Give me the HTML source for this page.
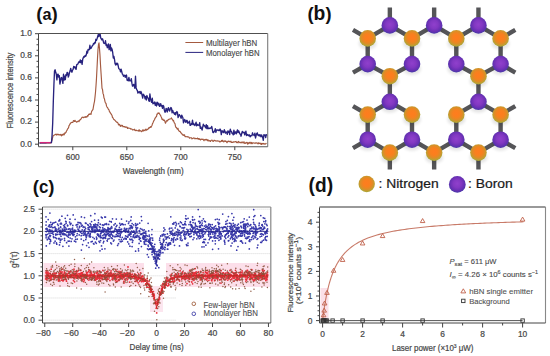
<!DOCTYPE html>
<html><head><meta charset="utf-8"><style>
html,body{margin:0;padding:0;background:#fff;width:550px;height:356px;overflow:hidden}
svg{display:block}
text{font-family:"Liberation Sans", sans-serif}
</style></head><body>
<svg width="550" height="356" viewBox="0 0 550 356" font-family='"Liberation Sans", sans-serif'>
<defs>
<radialGradient id="gN" cx="0.5" cy="0.45" r="0.55">
<stop offset="0" stop-color="#ff7c1e"/><stop offset="0.4" stop-color="#f8801e"/><stop offset="0.68" stop-color="#de8c26"/><stop offset="0.88" stop-color="#bca032"/><stop offset="1" stop-color="#a8a63a"/></radialGradient>
<radialGradient id="gB" cx="0.5" cy="0.45" r="0.55">
<stop offset="0" stop-color="#9040cc"/><stop offset="0.45" stop-color="#8238c2"/><stop offset="0.75" stop-color="#6a30b4"/><stop offset="1" stop-color="#4838a8"/></radialGradient>
<filter id="blur" x="-50%" y="-50%" width="200%" height="200%"><feGaussianBlur stdDeviation="1.8"/></filter>
</defs>
<rect width="550" height="356" fill="#fff"/>
<text x="36.3" y="19.5" font-weight="bold" fill="#111" textLength="21.5" lengthAdjust="spacingAndGlyphs"><tspan font-size="18.5">(</tspan><tspan font-size="16">a</tspan><tspan font-size="18.5">)</tspan></text>
<path d="M39.50,143.00 L40.00,143.00 L40.50,143.00 L41.00,143.00 L41.50,143.00 L42.00,143.00 L42.50,143.00 L43.00,143.00 L43.50,143.00 L44.00,143.00 L44.50,143.00 L45.00,143.00 L45.50,143.00 L46.00,143.00 L46.50,143.00 L47.00,143.00 L47.50,143.00 L48.00,143.00 L48.50,143.00 L49.00,143.00 L49.50,143.00 L50.00,143.00 L50.50,143.00 L51.00,143.00 L51.50,141.64 L52.00,140.27 L52.50,138.22 L53.00,136.00 L53.50,135.61 L54.00,135.21 L54.50,134.88 L55.00,134.80 L55.50,134.22 L56.00,134.22 L56.50,135.07 L57.00,134.05 L57.50,134.42 L58.00,134.97 L58.50,134.32 L59.00,134.65 L59.50,134.85 L60.00,134.91 L60.50,134.36 L61.00,135.10 L61.50,135.83 L62.00,134.31 L62.50,135.21 L63.00,134.55 L63.50,133.87 L64.00,134.89 L64.50,133.98 L65.00,132.70 L65.50,133.04 L66.00,132.31 L66.50,130.95 L67.00,130.41 L67.50,129.05 L68.00,128.42 L68.50,127.79 L69.00,125.71 L69.50,125.12 L70.00,123.77 L70.50,123.66 L71.00,122.60 L71.50,122.49 L72.00,122.28 L72.50,122.42 L73.00,122.14 L73.50,120.50 L74.00,120.67 L74.50,121.50 L75.00,120.28 L75.50,121.16 L76.00,121.45 L76.50,122.23 L77.00,122.06 L77.50,121.57 L78.00,121.22 L78.50,120.96 L79.00,121.52 L79.50,120.22 L80.00,119.84 L80.50,119.65 L81.00,118.89 L81.50,118.34 L82.00,117.36 L82.50,117.40 L83.00,117.02 L83.50,117.74 L84.00,117.41 L84.50,116.99 L85.00,117.26 L85.50,116.68 L86.00,117.30 L86.50,116.69 L87.00,116.91 L87.50,115.63 L88.00,116.04 L88.50,114.62 L89.00,114.04 L89.50,114.50 L90.00,113.80 L90.50,113.93 L91.00,114.31 L91.50,111.75 L92.00,110.83 L92.50,110.23 L93.00,109.35 L93.50,106.31 L94.00,103.60 L94.50,101.35 L95.00,97.17 L95.50,92.30 L96.00,85.78 L96.50,78.11 L97.00,68.20 L97.50,58.40 L98.00,49.27 L98.50,44.44 L99.00,42.90 L99.50,48.59 L100.00,55.34 L100.50,64.67 L101.00,72.46 L101.50,80.16 L102.00,88.18 L102.50,89.44 L103.00,93.42 L103.50,94.63 L104.00,98.08 L104.50,99.05 L105.00,101.62 L105.50,103.07 L106.00,103.36 L106.50,105.87 L107.00,107.10 L107.50,107.47 L108.00,108.45 L108.50,109.45 L109.00,109.97 L109.50,111.95 L110.00,112.04 L110.50,113.20 L111.00,113.74 L111.50,114.73 L112.00,115.32 L112.50,117.50 L113.00,117.70 L113.50,119.17 L114.00,119.61 L114.50,119.75 L115.00,120.44 L115.50,120.82 L116.00,121.60 L116.50,121.91 L117.00,122.45 L117.50,122.41 L118.00,123.20 L118.50,124.93 L119.00,124.26 L119.50,124.57 L120.00,125.70 L120.50,126.39 L121.00,125.11 L121.50,125.89 L122.00,125.83 L122.50,125.42 L123.00,126.82 L123.50,126.59 L124.00,126.79 L124.50,126.53 L125.00,127.29 L125.50,126.95 L126.00,127.30 L126.50,126.97 L127.00,127.07 L127.50,128.50 L128.00,127.72 L128.50,128.27 L129.00,128.26 L129.50,128.20 L130.00,128.32 L130.50,129.04 L131.00,128.72 L131.50,128.94 L132.00,129.18 L132.50,129.90 L133.00,129.81 L133.50,129.80 L134.00,129.48 L134.50,129.22 L135.00,130.50 L135.50,130.56 L136.00,130.06 L136.50,130.45 L137.00,130.63 L137.50,130.70 L138.00,130.80 L138.50,130.17 L139.00,131.21 L139.50,129.88 L140.00,130.99 L140.50,130.85 L141.00,131.10 L141.50,131.65 L142.00,131.51 L142.50,130.19 L143.00,129.83 L143.50,130.99 L144.00,129.98 L144.50,130.39 L145.00,130.73 L145.50,129.40 L146.00,129.07 L146.50,130.17 L147.00,129.82 L147.50,129.34 L148.00,129.15 L148.50,128.37 L149.00,127.71 L149.50,128.05 L150.00,127.31 L150.50,126.64 L151.00,127.39 L151.50,126.30 L152.00,125.43 L152.50,123.62 L153.00,122.68 L153.50,121.40 L154.00,120.35 L154.50,119.78 L155.00,118.21 L155.50,117.80 L156.00,116.81 L156.50,116.67 L157.00,113.97 L157.50,114.13 L158.00,112.92 L158.50,113.30 L159.00,112.93 L159.50,113.76 L160.00,114.70 L160.50,115.26 L161.00,116.48 L161.50,117.42 L162.00,119.27 L162.50,119.69 L163.00,119.10 L163.50,120.35 L164.00,120.22 L164.50,120.07 L165.00,121.93 L165.50,123.16 L166.00,122.00 L166.50,120.88 L167.00,120.47 L167.50,120.99 L168.00,119.99 L168.50,119.52 L169.00,119.22 L169.50,119.02 L170.00,119.15 L170.50,118.78 L171.00,118.36 L171.50,117.84 L172.00,119.27 L172.50,119.32 L173.00,120.86 L173.50,120.33 L174.00,121.96 L174.50,123.18 L175.00,123.67 L175.50,126.35 L176.00,127.38 L176.50,127.57 L177.00,128.80 L177.50,129.22 L178.00,128.34 L178.50,130.39 L179.00,130.85 L179.50,131.54 L180.00,131.41 L180.50,132.25 L181.00,132.74 L181.50,133.87 L182.00,133.89 L182.50,134.16 L183.00,135.38 L183.50,134.78 L184.00,135.31 L184.50,134.77 L185.00,136.64 L185.50,136.52 L186.00,136.67 L186.50,136.73 L187.00,136.63 L187.50,136.86 L188.00,136.80 L188.50,137.01 L189.00,137.31 L189.50,138.22 L190.00,137.92 L190.50,137.79 L191.00,137.71 L191.50,137.75 L192.00,138.93 L192.50,138.45 L193.00,138.29 L193.50,138.15 L194.00,137.84 L194.50,138.42 L195.00,138.96 L195.50,138.39 L196.00,138.54 L196.50,138.60 L197.00,138.83 L197.50,138.05 L198.00,138.79 L198.50,138.55 L199.00,139.48 L199.50,138.72 L200.00,139.46 L200.50,140.00 L201.00,139.14 L201.50,139.06 L202.00,139.53 L202.50,139.49 L203.00,139.06 L203.50,139.86 L204.00,140.70 L204.50,139.63 L205.00,139.72 L205.50,139.36 L206.00,140.11 L206.50,139.39 L207.00,139.53 L207.50,140.78 L208.00,139.76 L208.50,140.82 L209.00,141.10 L209.50,140.53 L210.00,140.75 L210.50,141.51 L211.00,140.50 L211.50,140.33 L212.00,139.99 L212.50,140.72 L213.00,141.47 L213.50,141.24 L214.00,140.32 L214.50,140.39 L215.00,140.60 L215.50,141.03 L216.00,140.81 L216.50,141.05 L217.00,141.13 L217.50,140.86 L218.00,141.02 L218.50,141.18 L219.00,141.06 L219.50,141.39 L220.00,142.10 L220.50,141.49 L221.00,141.26 L221.50,140.42 L222.00,141.49 L222.50,140.35 L223.00,140.65 L223.50,141.81 L224.00,141.77 L224.50,141.38 L225.00,140.63 L225.50,141.33 L226.00,141.21 L226.50,141.89 L227.00,142.74 L227.50,141.75 L228.00,141.28 L228.50,141.12 L229.00,141.71 L229.50,141.68 L230.00,141.22 L230.50,141.89 L231.00,141.28 L231.50,142.45 L232.00,142.45 L232.50,142.50 L233.00,141.75 L233.50,142.27 L234.00,141.98 L234.50,141.89 L235.00,141.94 L235.50,141.49 L236.00,141.45 L236.50,142.60 L237.00,142.14 L237.50,142.37 L238.00,142.80 L238.50,141.46 L239.00,141.96 L239.50,142.47 L240.00,142.61 L240.50,142.26 L241.00,142.99 L241.50,142.61 L242.00,141.93 L242.50,142.10 L243.00,142.99 L243.50,142.85 L244.00,141.70 L244.50,143.36 L245.00,143.01 L245.50,143.41 L246.00,142.58 L246.50,142.65 L247.00,142.27 L247.50,144.13 L248.00,142.80 L248.50,143.71 L249.00,142.62 L249.50,143.06 L250.00,142.17 L250.50,142.85 L251.00,143.56 L251.50,142.47 L252.00,143.66 L252.50,143.33 L253.00,142.66 L253.50,142.97 L254.00,143.02 L254.50,143.25 L255.00,143.04 L255.50,142.92 L256.00,143.21 L256.50,142.88 L257.00,142.78 L257.50,143.43 L258.00,143.92 L258.50,142.75 L259.00,143.54 L259.50,143.25 L260.00,143.11 L260.50,144.06 L261.00,143.40 L261.50,144.44 L262.00,143.33 L262.50,143.94 L263.00,143.67 L263.50,143.43 L264.00,144.13 L264.50,143.79 L265.00,144.20 L265.50,143.91 L266.00,143.42 L266.50,143.94" fill="none" stroke="#a45a40" stroke-width="1.15" stroke-linejoin="round" />
<path d="M39.50,143.00 L40.10,142.97 L40.70,142.95 L41.30,142.93 L41.90,142.90 L42.50,142.88 L43.10,142.85 L43.70,142.82 L44.30,142.80 L44.90,142.78 L45.50,142.75 L46.10,142.72 L46.70,142.70 L47.30,142.68 L47.90,142.65 L48.50,142.62 L49.10,142.60 L49.70,142.57 L50.30,142.55 L50.90,142.53 L51.50,142.50 L52.10,135.00 L52.70,123.00 L53.30,102.00 L53.90,85.18 L54.50,70.94 L55.10,69.76 L55.70,72.32 L56.30,74.28 L56.90,79.91 L57.50,74.58 L58.10,74.10 L58.70,77.01 L59.30,75.67 L59.90,84.05 L60.50,81.03 L61.10,77.92 L61.70,77.53 L62.30,80.06 L62.90,83.40 L63.50,74.21 L64.10,80.13 L64.70,76.16 L65.30,79.63 L65.90,74.62 L66.50,75.44 L67.10,72.32 L67.70,72.87 L68.30,77.10 L68.90,75.46 L69.50,72.51 L70.10,71.07 L70.70,68.52 L71.30,71.02 L71.90,72.19 L72.50,70.25 L73.10,69.35 L73.70,66.41 L74.30,67.64 L74.90,66.81 L75.50,68.71 L76.10,69.36 L76.70,64.85 L77.30,64.40 L77.90,63.98 L78.50,62.39 L79.10,61.61 L79.70,62.47 L80.30,60.00 L80.90,62.71 L81.50,60.69 L82.10,64.38 L82.70,59.33 L83.30,57.65 L83.90,56.50 L84.50,57.03 L85.10,55.50 L85.70,56.17 L86.30,54.79 L86.90,51.18 L87.50,53.13 L88.10,49.41 L88.70,49.97 L89.30,49.71 L89.90,45.25 L90.50,48.68 L91.10,48.20 L91.70,46.98 L92.30,45.85 L92.90,45.35 L93.50,43.35 L94.10,43.92 L94.70,42.51 L95.30,42.96 L95.90,39.06 L96.50,40.38 L97.10,38.65 L97.70,36.53 L98.30,34.38 L98.90,36.58 L99.50,33.80 L100.10,33.91 L100.70,37.80 L101.30,38.81 L101.90,39.94 L102.50,38.80 L103.10,40.52 L103.70,43.10 L104.30,43.33 L104.90,43.53 L105.50,40.74 L106.10,45.49 L106.70,44.37 L107.30,47.73 L107.90,46.82 L108.50,43.88 L109.10,49.68 L109.70,48.29 L110.30,44.32 L110.90,50.93 L111.50,47.99 L112.10,49.47 L112.70,52.47 L113.30,57.97 L113.90,56.36 L114.50,59.30 L115.10,63.82 L115.70,65.07 L116.30,63.23 L116.90,64.52 L117.50,63.30 L118.10,65.26 L118.70,68.32 L119.30,69.09 L119.90,69.34 L120.50,71.93 L121.10,69.22 L121.70,71.48 L122.30,73.88 L122.90,74.43 L123.50,76.24 L124.10,75.73 L124.70,75.16 L125.30,77.34 L125.90,75.45 L126.50,75.02 L127.10,80.26 L127.70,79.58 L128.30,80.89 L128.90,77.47 L129.50,80.72 L130.10,80.84 L130.70,80.90 L131.30,78.71 L131.90,83.13 L132.50,86.18 L133.10,85.73 L133.70,84.35 L134.30,86.10 L134.90,88.22 L135.50,76.29 L136.10,87.65 L136.70,89.59 L137.30,90.46 L137.90,93.10 L138.50,92.57 L139.10,91.53 L139.70,92.10 L140.30,93.66 L140.90,91.51 L141.50,93.02 L142.10,95.41 L142.70,98.02 L143.30,94.30 L143.90,95.02 L144.50,96.02 L145.10,98.82 L145.70,96.54 L146.30,99.98 L146.90,95.55 L147.50,97.56 L148.10,97.98 L148.70,100.39 L149.30,101.35 L149.90,93.82 L150.50,98.30 L151.10,101.19 L151.70,102.42 L152.30,98.25 L152.90,103.76 L153.50,103.06 L154.10,103.45 L154.70,101.90 L155.30,105.29 L155.90,103.04 L156.50,105.97 L157.10,102.21 L157.70,102.58 L158.30,104.96 L158.90,103.41 L159.50,106.42 L160.10,105.85 L160.70,103.75 L161.30,106.05 L161.90,105.50 L162.50,108.33 L163.10,105.53 L163.70,106.22 L164.30,109.82 L164.90,112.18 L165.50,112.00 L166.10,108.43 L166.70,109.05 L167.30,111.98 L167.90,108.97 L168.50,107.58 L169.10,110.07 L169.70,111.04 L170.30,108.79 L170.90,107.50 L171.50,108.29 L172.10,112.87 L172.70,110.40 L173.30,112.01 L173.90,113.09 L174.50,114.28 L175.10,112.75 L175.70,114.79 L176.30,112.39 L176.90,111.51 L177.50,112.88 L178.10,117.59 L178.70,115.66 L179.30,114.63 L179.90,115.80 L180.50,116.54 L181.10,118.41 L181.70,115.13 L182.30,116.42 L182.90,117.86 L183.50,122.91 L184.10,120.78 L184.70,119.47 L185.30,121.18 L185.90,122.33 L186.50,120.35 L187.10,120.40 L187.70,123.19 L188.30,122.30 L188.90,122.85 L189.50,121.23 L190.10,125.38 L190.70,125.30 L191.30,123.74 L191.90,124.19 L192.50,120.12 L193.10,124.64 L193.70,123.58 L194.30,124.85 L194.90,125.51 L195.50,124.13 L196.10,122.24 L196.70,125.80 L197.30,124.29 L197.90,125.21 L198.50,125.03 L199.10,125.60 L199.70,122.59 L200.30,128.38 L200.90,126.98 L201.50,128.50 L202.10,130.03 L202.70,127.04 L203.30,124.27 L203.90,125.87 L204.50,125.51 L205.10,126.78 L205.70,127.86 L206.30,124.67 L206.90,128.56 L207.50,125.74 L208.10,128.78 L208.70,128.27 L209.30,128.09 L209.90,128.62 L210.50,128.02 L211.10,128.04 L211.70,126.44 L212.30,129.21 L212.90,132.32 L213.50,132.66 L214.10,131.72 L214.70,130.85 L215.30,128.76 L215.90,132.27 L216.50,129.98 L217.10,130.08 L217.70,129.84 L218.30,130.57 L218.90,129.85 L219.50,130.53 L220.10,129.04 L220.70,130.30 L221.30,134.66 L221.90,131.02 L222.50,130.86 L223.10,132.22 L223.70,132.61 L224.30,129.78 L224.90,131.30 L225.50,133.17 L226.10,132.21 L226.70,132.04 L227.30,134.40 L227.90,130.90 L228.50,132.19 L229.10,131.30 L229.70,134.59 L230.30,129.15 L230.90,131.27 L231.50,131.57 L232.10,133.55 L232.70,133.53 L233.30,134.86 L233.90,130.18 L234.50,133.97 L235.10,132.38 L235.70,131.85 L236.30,133.85 L236.90,131.60 L237.50,129.83 L238.10,132.65 L238.70,130.93 L239.30,132.38 L239.90,134.09 L240.50,134.08 L241.10,136.21 L241.70,133.44 L242.30,131.39 L242.90,132.72 L243.50,132.54 L244.10,132.15 L244.70,134.88 L245.30,133.24 L245.90,131.19 L246.50,135.56 L247.10,134.35 L247.70,135.19 L248.30,134.87 L248.90,135.80 L249.50,134.91 L250.10,136.88 L250.70,135.64 L251.30,135.64 L251.90,135.73 L252.50,132.80 L253.10,134.92 L253.70,134.83 L254.30,135.63 L254.90,133.18 L255.50,138.03 L256.10,135.64 L256.70,133.59 L257.30,132.85 L257.90,135.19 L258.50,135.55 L259.10,134.60 L259.70,135.96 L260.30,134.84 L260.90,136.81 L261.50,134.82 L262.10,135.98 L262.70,137.66 L263.30,140.27 L263.90,134.59 L264.50,135.52 L265.10,134.98 L265.70,137.63 L266.30,134.60 L266.90,135.72" fill="none" stroke="#28237f" stroke-width="1.35" stroke-linejoin="round" />
<line x1="40.00" y1="142.60" x2="50.50" y2="142.60" stroke="#d4267a" stroke-width="1.3" />
<line x1="38.50" y1="33.50" x2="267.70" y2="33.50" stroke="#505050" stroke-width="1.1" />
<line x1="267.70" y1="33.50" x2="267.70" y2="146.70" stroke="#7c7c7c" stroke-width="1.1" />
<line x1="38.50" y1="33.50" x2="38.50" y2="146.70" stroke="#444" stroke-width="1" />
<line x1="38.50" y1="146.70" x2="267.70" y2="146.70" stroke="#555" stroke-width="1.1" />
<line x1="35.00" y1="144.20" x2="38.50" y2="144.20" stroke="#444" stroke-width="1" />
<line x1="36.50" y1="138.67" x2="38.50" y2="138.67" stroke="#444" stroke-width="1" />
<line x1="36.50" y1="133.15" x2="38.50" y2="133.15" stroke="#444" stroke-width="1" />
<line x1="36.50" y1="127.62" x2="38.50" y2="127.62" stroke="#444" stroke-width="1" />
<line x1="35.00" y1="122.10" x2="38.50" y2="122.10" stroke="#444" stroke-width="1" />
<line x1="36.50" y1="116.57" x2="38.50" y2="116.57" stroke="#444" stroke-width="1" />
<line x1="36.50" y1="111.05" x2="38.50" y2="111.05" stroke="#444" stroke-width="1" />
<line x1="36.50" y1="105.52" x2="38.50" y2="105.52" stroke="#444" stroke-width="1" />
<line x1="35.00" y1="100.00" x2="38.50" y2="100.00" stroke="#444" stroke-width="1" />
<line x1="36.50" y1="94.47" x2="38.50" y2="94.47" stroke="#444" stroke-width="1" />
<line x1="36.50" y1="88.95" x2="38.50" y2="88.95" stroke="#444" stroke-width="1" />
<line x1="36.50" y1="83.42" x2="38.50" y2="83.42" stroke="#444" stroke-width="1" />
<line x1="35.00" y1="77.90" x2="38.50" y2="77.90" stroke="#444" stroke-width="1" />
<line x1="36.50" y1="72.37" x2="38.50" y2="72.37" stroke="#444" stroke-width="1" />
<line x1="36.50" y1="66.85" x2="38.50" y2="66.85" stroke="#444" stroke-width="1" />
<line x1="36.50" y1="61.32" x2="38.50" y2="61.32" stroke="#444" stroke-width="1" />
<line x1="35.00" y1="55.80" x2="38.50" y2="55.80" stroke="#444" stroke-width="1" />
<line x1="36.50" y1="50.27" x2="38.50" y2="50.27" stroke="#444" stroke-width="1" />
<line x1="36.50" y1="44.75" x2="38.50" y2="44.75" stroke="#444" stroke-width="1" />
<line x1="36.50" y1="39.22" x2="38.50" y2="39.22" stroke="#444" stroke-width="1" />
<line x1="35.00" y1="33.70" x2="38.50" y2="33.70" stroke="#444" stroke-width="1" />
<text x="31.8" y="146.5" font-size="8.4" text-anchor="end" fill="#484848" stroke="#484848" stroke-width="0.22" >0.0</text>
<text x="31.8" y="124.4" font-size="8.4" text-anchor="end" fill="#484848" stroke="#484848" stroke-width="0.22" >0.2</text>
<text x="31.8" y="102.3" font-size="8.4" text-anchor="end" fill="#484848" stroke="#484848" stroke-width="0.22" >0.4</text>
<text x="31.8" y="80.2" font-size="8.4" text-anchor="end" fill="#484848" stroke="#484848" stroke-width="0.22" >0.6</text>
<text x="31.8" y="58.1" font-size="8.4" text-anchor="end" fill="#484848" stroke="#484848" stroke-width="0.22" >0.8</text>
<text x="31.8" y="36.0" font-size="8.4" text-anchor="end" fill="#484848" stroke="#484848" stroke-width="0.22" >1.0</text>
<line x1="72.80" y1="146.70" x2="72.80" y2="150.20" stroke="#444" stroke-width="1" />
<text x="72.8" y="160.3" font-size="8.4" text-anchor="middle" fill="#484848" stroke="#484848" stroke-width="0.22" >600</text>
<line x1="126.80" y1="146.70" x2="126.80" y2="150.20" stroke="#444" stroke-width="1" />
<text x="126.8" y="160.3" font-size="8.4" text-anchor="middle" fill="#484848" stroke="#484848" stroke-width="0.22" >650</text>
<line x1="180.80" y1="146.70" x2="180.80" y2="150.20" stroke="#444" stroke-width="1" />
<text x="180.8" y="160.3" font-size="8.4" text-anchor="middle" fill="#484848" stroke="#484848" stroke-width="0.22" >700</text>
<line x1="234.80" y1="146.70" x2="234.80" y2="150.20" stroke="#444" stroke-width="1" />
<text x="234.8" y="160.3" font-size="8.4" text-anchor="middle" fill="#484848" stroke="#484848" stroke-width="0.22" >750</text>
<text x="122.8" y="174.2" font-size="8.8" text-anchor="start" fill="#484848" stroke="#484848" stroke-width="0.22" textLength="60.8" lengthAdjust="spacingAndGlyphs" >Wavelength (nm)</text>
<text x="0.0" y="0.0" font-size="8.4" text-anchor="middle" fill="#484848" stroke="#484848" stroke-width="0.22" textLength="76" lengthAdjust="spacingAndGlyphs" transform="translate(12.8,90.6) rotate(-90)">Fluorescence intensity</text>
<line x1="185.40" y1="42.50" x2="203.20" y2="42.50" stroke="#a45a40" stroke-width="1" />
<line x1="185.40" y1="52.40" x2="203.20" y2="52.40" stroke="#28237f" stroke-width="1" />
<text x="206.0" y="45.6" font-size="8.3" text-anchor="start" fill="#454545" stroke="#454545" stroke-width="0.12" textLength="51.3" lengthAdjust="spacingAndGlyphs" >Multilayer hBN</text>
<text x="206.0" y="55.5" font-size="8.3" text-anchor="start" fill="#454545" stroke="#454545" stroke-width="0.12" textLength="53.6" lengthAdjust="spacingAndGlyphs" >Monolayer hBN</text>
<text x="307.5" y="19.5" font-weight="bold" fill="#111" textLength="24" lengthAdjust="spacingAndGlyphs"><tspan font-size="18.5">(</tspan><tspan font-size="19.5">b</tspan><tspan font-size="18.5">)</tspan></text>
<path d="M389.85,76.20 L389.85,101.80 M456.30,114.60 L456.30,139.70 M478.45,25.40 L500.60,38.40 M478.45,25.40 L456.30,38.40 M412.00,64.10 L389.85,76.20 M367.70,38.40 L367.70,64.10 M500.60,38.40 L500.60,64.10 M412.00,139.70 L389.85,152.60 M412.00,139.70 L434.15,152.60 M478.45,101.80 L456.30,114.60 M478.45,101.80 L500.60,114.60 M367.70,114.60 L367.70,139.70 M500.60,114.60 L500.60,139.70 M389.85,25.40 L367.70,38.40 M389.85,25.40 L412.00,38.40 M456.30,64.10 L478.45,76.20 M412.00,38.40 L412.00,64.10 M456.30,139.70 L434.15,152.60 M456.30,139.70 L478.45,152.60 M389.85,101.80 L367.70,114.60 M389.85,101.80 L412.00,114.60 M478.45,76.20 L478.45,101.80 M412.00,114.60 L412.00,139.70 M434.15,25.40 L412.00,38.40 M434.15,25.40 L456.30,38.40 M367.70,64.10 L389.85,76.20 M456.30,38.40 L456.30,64.10 M500.60,64.10 L478.45,76.20 M367.70,139.70 L389.85,152.60 M500.60,139.70 L478.45,152.60 M389.85,25.40 L389.85,7.40 M389.85,152.60 L389.85,169.60 M434.15,25.40 L434.15,7.40 M434.15,152.60 L434.15,169.60 M478.45,25.40 L478.45,7.40 M478.45,152.60 L478.45,169.60 M367.70,38.40 L352.98,29.90 M500.60,38.40 L515.32,29.90 M367.70,114.60 L352.98,106.10 M500.60,114.60 L515.32,106.10 M367.70,64.10 L352.98,72.60 M500.60,64.10 L515.32,72.60 M367.70,139.70 L352.98,148.20 M500.60,139.70 L515.32,148.20" stroke="#555558" stroke-width="4.4" stroke-linecap="butt" fill="none"/>
<ellipse cx="389.85" cy="30.40" rx="9" ry="6" fill="#000" opacity="0.10" filter="url(#blur)"/>
<ellipse cx="434.15" cy="30.40" rx="9" ry="6" fill="#000" opacity="0.10" filter="url(#blur)"/>
<ellipse cx="478.45" cy="30.40" rx="9" ry="6" fill="#000" opacity="0.10" filter="url(#blur)"/>
<ellipse cx="367.70" cy="43.40" rx="9" ry="6" fill="#000" opacity="0.10" filter="url(#blur)"/>
<ellipse cx="412.00" cy="43.40" rx="9" ry="6" fill="#000" opacity="0.10" filter="url(#blur)"/>
<ellipse cx="456.30" cy="43.40" rx="9" ry="6" fill="#000" opacity="0.10" filter="url(#blur)"/>
<ellipse cx="500.60" cy="43.40" rx="9" ry="6" fill="#000" opacity="0.10" filter="url(#blur)"/>
<ellipse cx="367.70" cy="69.10" rx="9" ry="6" fill="#000" opacity="0.10" filter="url(#blur)"/>
<ellipse cx="412.00" cy="69.10" rx="9" ry="6" fill="#000" opacity="0.10" filter="url(#blur)"/>
<ellipse cx="456.30" cy="69.10" rx="9" ry="6" fill="#000" opacity="0.10" filter="url(#blur)"/>
<ellipse cx="500.60" cy="69.10" rx="9" ry="6" fill="#000" opacity="0.10" filter="url(#blur)"/>
<ellipse cx="389.85" cy="81.20" rx="9" ry="6" fill="#000" opacity="0.10" filter="url(#blur)"/>
<ellipse cx="478.45" cy="81.20" rx="9" ry="6" fill="#000" opacity="0.10" filter="url(#blur)"/>
<ellipse cx="389.85" cy="106.80" rx="9" ry="6" fill="#000" opacity="0.10" filter="url(#blur)"/>
<ellipse cx="478.45" cy="106.80" rx="9" ry="6" fill="#000" opacity="0.10" filter="url(#blur)"/>
<ellipse cx="367.70" cy="119.60" rx="9" ry="6" fill="#000" opacity="0.10" filter="url(#blur)"/>
<ellipse cx="412.00" cy="119.60" rx="9" ry="6" fill="#000" opacity="0.10" filter="url(#blur)"/>
<ellipse cx="456.30" cy="119.60" rx="9" ry="6" fill="#000" opacity="0.10" filter="url(#blur)"/>
<ellipse cx="500.60" cy="119.60" rx="9" ry="6" fill="#000" opacity="0.10" filter="url(#blur)"/>
<ellipse cx="367.70" cy="144.70" rx="9" ry="6" fill="#000" opacity="0.10" filter="url(#blur)"/>
<ellipse cx="412.00" cy="144.70" rx="9" ry="6" fill="#000" opacity="0.10" filter="url(#blur)"/>
<ellipse cx="456.30" cy="144.70" rx="9" ry="6" fill="#000" opacity="0.10" filter="url(#blur)"/>
<ellipse cx="500.60" cy="144.70" rx="9" ry="6" fill="#000" opacity="0.10" filter="url(#blur)"/>
<ellipse cx="389.85" cy="157.60" rx="9" ry="6" fill="#000" opacity="0.10" filter="url(#blur)"/>
<ellipse cx="434.15" cy="157.60" rx="9" ry="6" fill="#000" opacity="0.10" filter="url(#blur)"/>
<ellipse cx="478.45" cy="157.60" rx="9" ry="6" fill="#000" opacity="0.10" filter="url(#blur)"/>
<circle cx="389.85" cy="25.40" r="8.3" fill="url(#gB)"/>
<circle cx="434.15" cy="25.40" r="8.3" fill="url(#gB)"/>
<circle cx="478.45" cy="25.40" r="8.3" fill="url(#gB)"/>
<circle cx="367.70" cy="38.40" r="8.3" fill="url(#gN)"/>
<circle cx="412.00" cy="38.40" r="8.3" fill="url(#gN)"/>
<circle cx="456.30" cy="38.40" r="8.3" fill="url(#gN)"/>
<circle cx="500.60" cy="38.40" r="8.3" fill="url(#gN)"/>
<circle cx="367.70" cy="64.10" r="8.3" fill="url(#gB)"/>
<circle cx="412.00" cy="64.10" r="8.3" fill="url(#gB)"/>
<circle cx="456.30" cy="64.10" r="8.3" fill="url(#gB)"/>
<circle cx="500.60" cy="64.10" r="8.3" fill="url(#gB)"/>
<circle cx="389.85" cy="76.20" r="8.3" fill="url(#gN)"/>
<circle cx="478.45" cy="76.20" r="8.3" fill="url(#gN)"/>
<circle cx="389.85" cy="101.80" r="8.3" fill="url(#gB)"/>
<circle cx="478.45" cy="101.80" r="8.3" fill="url(#gB)"/>
<circle cx="367.70" cy="114.60" r="8.3" fill="url(#gN)"/>
<circle cx="412.00" cy="114.60" r="8.3" fill="url(#gN)"/>
<circle cx="456.30" cy="114.60" r="8.3" fill="url(#gN)"/>
<circle cx="500.60" cy="114.60" r="8.3" fill="url(#gN)"/>
<circle cx="367.70" cy="139.70" r="8.3" fill="url(#gB)"/>
<circle cx="412.00" cy="139.70" r="8.3" fill="url(#gB)"/>
<circle cx="456.30" cy="139.70" r="8.3" fill="url(#gB)"/>
<circle cx="500.60" cy="139.70" r="8.3" fill="url(#gB)"/>
<circle cx="389.85" cy="152.60" r="8.3" fill="url(#gN)"/>
<circle cx="434.15" cy="152.60" r="8.3" fill="url(#gN)"/>
<circle cx="478.45" cy="152.60" r="8.3" fill="url(#gN)"/>
<circle cx="366.7" cy="184" r="8.2" fill="url(#gN)"/>
<circle cx="457.3" cy="184.4" r="8.4" fill="url(#gB)"/>
<text x="378.6" y="187.9" font-size="13" text-anchor="start" fill="#1a1a1a" stroke="#1a1a1a" stroke-width="0.22" textLength="60" lengthAdjust="spacingAndGlyphs" >: Nitrogen</text>
<text x="468.0" y="187.9" font-size="13" text-anchor="start" fill="#1a1a1a" stroke="#1a1a1a" stroke-width="0.22" textLength="44.7" lengthAdjust="spacingAndGlyphs" >: Boron</text>
<text x="32.7" y="192.6" font-weight="bold" fill="#111" textLength="21.8" lengthAdjust="spacingAndGlyphs"><tspan font-size="19.2">(</tspan><tspan font-size="17.5">c</tspan><tspan font-size="19.2">)</tspan></text>
<line x1="42.50" y1="320.20" x2="176.00" y2="320.20" stroke="#c8c8c8" stroke-width="0.6" stroke-dasharray="1.2 0.8"/>
<line x1="42.50" y1="298.00" x2="176.00" y2="298.00" stroke="#c8c8c8" stroke-width="0.6" stroke-dasharray="1.2 0.8"/>
<line x1="42.50" y1="275.80" x2="270.80" y2="275.80" stroke="#c8c8c8" stroke-width="0.6" stroke-dasharray="1.2 0.8"/>
<line x1="42.50" y1="253.60" x2="270.80" y2="253.60" stroke="#c8c8c8" stroke-width="0.6" stroke-dasharray="1.2 0.8"/>
<line x1="42.50" y1="231.40" x2="270.80" y2="231.40" stroke="#c8c8c8" stroke-width="0.6" stroke-dasharray="1.2 0.8"/>
<line x1="42.50" y1="209.20" x2="270.80" y2="209.20" stroke="#c8c8c8" stroke-width="0.6" stroke-dasharray="1.2 0.8"/>
<rect x="43.5" y="263" width="100.5" height="24" fill="#fcdfea"/>
<rect x="166" y="263" width="103.80000000000001" height="24" fill="#fcdfea"/>
<rect x="150" y="286" width="13" height="26" fill="#fce6ef"/>
<path d="M204.0,239.3h0 M212.6,249.3h0 M234.2,241.4h0 M225.8,238.4h0 M194.2,232.4h0 M205.8,227.2h0 M80.4,232.4h0 M200.9,236.3h0 M102.0,230.4h0 M102.8,238.0h0 M72.2,231.7h0 M133.7,236.7h0 M49.9,213.0h0 M191.5,225.9h0 M211.7,237.2h0 M217.8,238.3h0 M74.1,234.4h0 M188.0,243.0h0 M231.8,236.4h0 M53.5,236.5h0 M88.4,225.3h0 M105.0,234.3h0 M148.1,245.2h0 M83.7,240.6h0 M165.2,247.6h0 M121.9,232.0h0 M191.1,233.0h0 M163.6,234.1h0 M198.0,235.8h0 M100.2,224.1h0 M202.6,229.7h0 M208.8,231.4h0 M205.9,245.2h0 M60.7,240.3h0 M255.8,226.3h0 M173.7,224.0h0 M106.0,230.0h0 M142.0,229.3h0 M160.5,251.1h0 M160.5,250.8h0 M100.6,236.0h0 M104.4,224.7h0 M126.3,229.3h0 M219.0,233.0h0 M142.7,237.2h0 M54.0,227.6h0 M146.0,235.1h0 M90.2,237.1h0 M48.2,219.6h0 M262.6,229.6h0 M110.7,231.4h0 M164.9,229.7h0 M125.1,224.6h0 M57.3,232.0h0 M245.7,227.7h0 M253.4,238.8h0 M86.9,235.8h0 M138.4,248.8h0 M128.5,223.4h0 M82.6,244.5h0 M192.5,226.8h0 M219.3,237.1h0 M214.3,238.1h0 M195.6,232.8h0 M49.3,229.6h0 M96.5,227.2h0 M159.8,238.0h0 M201.7,229.0h0 M131.4,225.9h0 M145.3,240.9h0 M232.3,226.5h0 M50.7,230.3h0 M105.2,234.6h0 M109.9,232.1h0 M266.1,231.8h0 M96.0,230.1h0 M55.9,228.6h0 M138.0,236.6h0 M189.8,236.7h0 M79.6,226.3h0 M232.1,243.1h0 M89.1,235.7h0 M202.0,220.7h0 M81.4,250.0h0 M241.5,236.2h0 M90.2,226.7h0 M208.0,242.8h0 M231.9,213.5h0 M102.1,249.2h0 M66.1,221.5h0 M175.7,222.3h0 M156.4,255.1h0 M152.0,248.1h0 M219.1,228.9h0 M148.4,246.3h0 M155.9,253.9h0 M153.8,259.1h0 M146.5,239.8h0 M135.6,225.7h0 M81.2,239.1h0 M111.1,233.9h0 M104.3,230.3h0 M100.6,240.6h0 M219.5,223.4h0 M70.8,229.1h0 M91.1,241.8h0 M162.5,244.2h0 M114.9,236.8h0 M98.8,235.9h0 M128.5,231.3h0 M157.0,265.3h0 M195.4,224.8h0 M261.6,236.2h0 M235.0,224.6h0 M141.0,234.5h0 M145.8,231.4h0 M137.9,236.8h0 M98.6,234.9h0 M257.0,239.3h0 M60.7,227.4h0 M91.0,224.9h0 M192.6,216.9h0 M176.5,223.9h0 M107.4,229.7h0 M253.7,232.9h0 M136.5,230.1h0 M178.0,232.7h0 M65.7,221.3h0 M243.5,224.9h0 M68.4,237.2h0 M133.0,236.9h0 M242.3,222.0h0 M255.5,229.3h0 M246.4,233.0h0 M229.4,223.2h0 M97.3,234.1h0 M52.5,233.3h0 M145.9,240.4h0 M59.5,244.9h0 M259.0,225.5h0 M47.3,239.7h0 M117.8,235.4h0 M90.6,236.5h0 M48.5,226.4h0 M156.4,262.0h0 M62.4,231.3h0 M245.5,243.0h0 M198.3,232.0h0 M127.7,241.9h0 M232.5,229.3h0 M222.6,228.9h0 M118.0,231.6h0 M233.8,217.3h0 M252.0,227.8h0 M183.2,227.8h0 M123.7,230.6h0 M245.6,232.7h0 M255.0,224.8h0 M122.7,224.0h0 M64.6,240.4h0 M238.4,224.1h0 M193.2,228.0h0 M97.0,224.8h0 M171.5,231.3h0 M114.0,240.0h0 M249.8,239.5h0 M121.5,219.0h0 M89.1,229.7h0 M55.1,241.2h0 M121.6,229.1h0 M265.4,233.9h0 M94.0,244.1h0 M147.3,254.5h0 M261.5,242.4h0 M47.0,229.5h0 M111.0,231.8h0 M228.0,233.1h0 M66.7,229.4h0 M251.8,227.3h0 M231.0,245.9h0 M77.3,233.5h0 M177.1,238.4h0 M168.9,244.5h0 M199.7,235.2h0 M113.7,232.3h0 M130.8,233.8h0 M99.0,241.4h0 M110.3,234.7h0 M84.5,217.5h0 M246.5,238.7h0 M242.7,243.0h0 M125.5,229.8h0 M199.5,227.3h0 M154.4,250.4h0 M107.9,239.1h0 M123.2,224.7h0 M260.0,236.8h0 M121.4,239.3h0 M174.1,237.6h0 M255.5,232.1h0 M111.6,226.5h0 M225.3,227.1h0 M70.8,231.6h0 M208.5,225.0h0 M224.8,230.8h0 M231.6,225.2h0 M262.2,241.1h0 M203.5,242.3h0 M262.7,226.1h0 M107.3,241.0h0 M161.4,248.2h0 M93.0,232.1h0 M64.0,234.8h0 M143.0,238.3h0 M205.4,221.8h0 M218.5,248.8h0 M49.2,225.3h0 M254.9,215.6h0 M100.4,231.2h0 M110.4,231.6h0 M230.5,226.4h0 M244.2,218.8h0 M209.2,239.6h0 M119.4,230.9h0 M148.3,241.3h0 M231.0,227.6h0 M124.9,230.5h0 M224.5,226.9h0 M219.3,234.3h0 M149.6,241.6h0 M244.7,236.0h0 M130.9,236.5h0 M212.2,232.4h0 M187.7,232.6h0 M119.1,239.6h0 M163.7,231.0h0 M180.2,233.1h0 M164.8,249.6h0 M70.1,223.8h0 M265.8,236.5h0 M260.3,227.9h0 M53.8,231.5h0 M255.4,229.7h0 M163.6,240.7h0 M73.4,235.4h0 M227.9,231.1h0 M141.7,220.5h0 M204.0,246.8h0 M229.3,230.9h0 M165.1,236.8h0 M56.5,238.6h0 M228.3,240.8h0 M199.7,216.6h0 M247.8,234.0h0 M105.5,217.1h0 M220.0,227.7h0 M239.5,230.9h0 M124.4,228.3h0 M136.6,228.4h0 M119.7,223.4h0 M46.7,228.4h0 M96.9,230.4h0 M119.2,230.3h0 M69.6,222.1h0 M215.6,225.8h0 M140.4,240.8h0 M171.8,238.7h0 M108.7,229.1h0 M125.6,235.9h0 M212.9,234.0h0 M149.9,248.9h0 M178.1,234.3h0 M139.4,230.6h0 M169.3,228.9h0 M244.9,231.3h0 M104.9,217.1h0 M160.8,248.0h0 M198.2,209.5h0 M64.8,224.5h0 M259.3,228.0h0 M156.3,264.6h0 M100.0,250.8h0 M214.5,232.5h0 M226.7,230.2h0 M185.6,218.5h0 M249.1,240.9h0 M65.2,218.3h0 M162.7,245.1h0 M210.6,226.4h0 M249.3,248.9h0 M188.0,230.7h0 M179.3,234.7h0 M131.8,227.4h0 M172.5,233.4h0 M168.8,243.9h0 M246.6,224.9h0 M229.3,226.6h0 M209.3,227.3h0 M250.8,224.5h0 M60.2,223.8h0 M216.5,231.6h0 M148.5,249.6h0 M212.6,240.9h0 M111.3,222.1h0 M149.3,236.6h0 M228.8,230.7h0 M53.3,234.4h0 M110.2,231.2h0 M154.0,252.1h0 M234.7,233.7h0 M105.5,236.2h0 M228.4,216.5h0 M99.8,229.8h0 M112.8,235.6h0 M168.6,245.2h0 M190.8,236.5h0 M241.1,226.4h0 M240.9,226.2h0 M101.1,232.9h0 M211.2,231.1h0 M186.6,233.8h0 M131.3,239.6h0 M218.0,222.4h0 M245.0,228.8h0 M152.0,229.5h0 M249.1,236.6h0 M73.8,232.3h0 M82.4,225.3h0 M215.3,233.1h0 M113.4,241.0h0 M175.6,239.6h0 M155.9,258.8h0 M77.9,229.0h0 M213.1,232.1h0 M210.3,224.5h0 M77.7,224.6h0 M103.2,229.2h0 M223.4,231.2h0 M248.2,233.1h0 M238.9,227.6h0 M157.0,254.2h0 M127.1,231.3h0 M144.4,233.0h0 M84.7,233.6h0 M155.7,268.2h0 M96.8,238.3h0 M81.5,226.1h0 M130.1,228.8h0 M59.7,220.5h0 M150.0,242.2h0 M200.2,225.5h0 M190.3,222.5h0 M262.2,224.6h0 M242.4,235.6h0 M186.3,233.0h0 M245.0,230.5h0 M144.3,242.7h0 M223.0,228.1h0 M108.7,224.4h0 M162.5,247.1h0 M263.3,217.8h0 M178.6,234.4h0 M158.1,257.4h0 M220.5,233.0h0 M114.9,236.3h0 M230.2,228.5h0 M49.6,231.3h0 M98.4,220.0h0 M84.9,227.2h0 M102.7,227.7h0 M255.6,232.9h0 M50.8,241.1h0 M111.9,232.0h0 M173.1,239.6h0 M201.7,224.9h0 M217.5,231.6h0 M130.7,220.5h0 M94.4,226.3h0 M234.9,225.7h0 M72.6,229.8h0 M59.9,230.0h0 M96.9,226.9h0 M155.0,249.1h0 M254.9,236.3h0 M207.5,228.0h0 M170.8,216.8h0 M161.3,246.9h0 M199.6,233.2h0 M184.7,236.6h0 M120.2,241.5h0 M66.1,223.2h0 M90.1,231.0h0 M219.4,229.3h0 M186.5,219.0h0 M222.7,214.1h0 M55.3,237.5h0 M245.7,224.1h0 M130.4,227.6h0 M251.3,228.7h0 M177.6,229.3h0 M167.1,237.6h0 M227.3,220.4h0 M184.5,227.6h0 M195.4,229.1h0 M80.5,222.8h0 M179.8,226.1h0 M124.7,228.4h0 M62.3,229.1h0 M75.1,219.3h0 M152.1,243.3h0 M103.8,232.0h0 M215.6,237.3h0 M72.7,233.7h0 M48.5,238.6h0 M267.1,230.6h0 M115.0,229.7h0 M158.8,267.7h0 M92.1,231.3h0 M91.9,226.9h0 M134.9,231.3h0 M221.0,238.0h0 M54.1,222.7h0 M231.6,236.2h0 M265.6,239.8h0 M169.8,242.8h0 M125.5,231.7h0 M97.5,224.6h0 M86.1,223.4h0 M117.3,230.0h0 M234.8,239.6h0 M46.2,235.9h0 M220.2,237.6h0 M193.8,232.7h0 M49.7,243.6h0 M60.9,230.6h0 M208.9,227.0h0 M195.1,232.5h0 M115.1,228.3h0 M236.9,237.9h0 M92.2,241.4h0 M140.4,238.3h0 M71.0,223.4h0 M189.0,224.5h0 M64.8,234.5h0 M85.4,223.1h0 M215.8,233.6h0 M156.7,251.8h0 M192.6,228.2h0 M208.6,234.5h0 M180.3,226.7h0 M89.4,236.7h0 M200.7,237.9h0 M71.2,241.4h0 M105.4,229.6h0 M145.1,236.9h0 M70.9,231.9h0 M69.0,234.2h0 M190.4,221.7h0 M210.4,234.3h0 M127.9,236.7h0 M132.1,223.5h0 M91.6,221.6h0 M161.4,243.8h0 M174.5,245.3h0 M253.0,235.5h0 M54.5,227.2h0 M247.5,231.3h0 M265.7,220.7h0 M122.4,241.0h0 M206.8,226.7h0 M228.8,235.7h0 M190.2,222.5h0 M109.7,231.9h0 M183.9,224.8h0 M240.4,235.9h0 M69.3,241.1h0 M152.1,254.6h0 M50.5,235.6h0 M233.3,238.5h0 M218.5,223.1h0 M55.7,222.2h0 M211.2,229.5h0 M199.2,238.6h0 M73.5,232.2h0 M162.2,249.1h0 M198.7,221.4h0 M120.0,229.3h0 M157.5,255.2h0 M262.4,234.2h0 M186.8,245.5h0 M157.0,265.7h0 M60.1,239.1h0 M72.4,228.9h0 M234.6,230.7h0 M210.5,236.9h0 M231.1,234.1h0 M174.0,222.7h0 M173.5,240.2h0 M163.4,248.5h0 M208.9,233.0h0 M118.9,236.3h0 M155.9,262.1h0 M149.9,238.7h0 M192.5,219.6h0 M93.5,243.6h0 M51.0,231.5h0 M65.1,231.1h0 M85.3,232.0h0 M236.0,232.7h0 M204.8,233.8h0 M212.2,224.5h0 M144.2,239.1h0 M68.3,232.3h0 M148.9,240.8h0 M237.3,230.7h0 M158.6,255.2h0 M185.9,224.8h0 M128.6,231.9h0 M78.8,230.2h0 M184.7,232.1h0 M153.3,256.8h0 M122.3,237.3h0 M102.9,238.6h0 M200.2,230.1h0 M116.1,236.4h0 M173.5,241.0h0 M103.2,229.8h0 M212.9,227.8h0 M128.8,243.9h0 M151.8,234.6h0 M251.6,231.2h0 M205.1,232.1h0 M209.1,224.1h0 M120.9,231.0h0 M232.3,235.6h0 M131.2,216.9h0 M265.1,238.8h0 M244.6,232.1h0 M192.0,225.7h0 M230.3,238.8h0 M166.4,238.9h0 M208.4,228.7h0 M73.2,214.9h0 M265.2,237.5h0 M223.3,231.7h0 M77.1,226.9h0 M99.4,230.8h0 M173.3,242.0h0 M215.0,228.6h0 M78.5,230.7h0 M259.0,228.3h0 M122.4,223.8h0 M266.6,224.4h0 M212.7,228.6h0 M153.4,248.1h0 M126.1,239.2h0 M66.9,232.3h0 M65.0,229.9h0 M185.4,234.5h0 M217.4,230.7h0 M247.2,237.1h0 M126.6,221.1h0 M253.9,216.6h0 M111.4,234.1h0 M254.4,228.6h0 M249.7,233.0h0 M79.9,222.7h0 M236.8,228.4h0 M201.9,230.9h0 M201.6,233.0h0 M232.3,230.5h0 M164.7,247.0h0 M158.1,251.3h0 M127.0,236.6h0 M237.8,227.7h0 M245.8,230.5h0 M81.1,223.9h0 M217.1,231.5h0 M106.7,224.4h0 M86.3,237.7h0 M89.3,227.2h0 M172.9,235.4h0 M107.6,230.1h0 M99.3,230.9h0 M67.4,225.0h0 M117.6,245.4h0 M217.5,229.2h0 M50.3,241.7h0 M152.7,240.2h0 M179.5,245.9h0 M56.5,238.3h0 M110.8,242.9h0 M247.0,220.1h0 M266.5,240.3h0 M234.5,230.6h0 M83.2,235.1h0 M215.3,243.8h0 M145.7,239.4h0 M83.4,226.8h0 M152.4,248.7h0 M250.6,224.9h0 M240.5,233.9h0 M132.5,232.1h0 M59.5,234.0h0 M245.6,229.0h0 M264.7,218.3h0 M159.1,249.9h0 M95.5,230.1h0 M166.3,242.5h0 M200.2,236.6h0 M152.6,238.1h0 M123.8,239.2h0 M100.5,237.7h0 M111.4,232.1h0 M56.5,234.3h0 M102.2,217.9h0 M257.3,247.7h0 M47.3,228.9h0 M207.2,226.5h0 M220.8,239.1h0 M135.4,237.0h0 M177.8,229.6h0 M94.6,220.2h0 M194.0,237.8h0 M202.8,242.3h0 M208.7,224.7h0 M154.8,244.3h0 M261.2,233.7h0 M238.0,246.6h0 M172.7,223.9h0 M197.1,232.8h0 M106.5,223.7h0 M255.2,231.7h0 M188.9,234.2h0 M244.4,234.5h0 M109.6,221.3h0 M263.8,221.5h0 M68.9,246.1h0 M163.3,248.7h0 M70.0,219.2h0 M87.6,233.9h0 M215.3,240.8h0 M60.2,231.4h0 M130.5,232.7h0 M88.1,232.1h0 M234.5,234.7h0 M63.8,233.5h0 M120.3,234.6h0 M235.8,229.1h0 M198.1,237.0h0 M201.8,233.4h0 M265.8,232.4h0 M50.7,222.4h0 M193.2,228.9h0 M211.0,232.2h0 M211.8,227.7h0 M204.2,228.6h0 M61.5,223.9h0 M64.1,227.9h0 M217.2,219.1h0 M181.4,222.8h0 M103.8,231.7h0 M47.5,234.3h0 M164.0,235.1h0 M65.6,227.8h0 M211.8,232.1h0 M121.2,241.7h0 M224.9,244.0h0 M66.7,229.0h0 M155.3,251.3h0 M67.6,225.9h0 M218.9,240.3h0 M169.9,228.2h0 M97.6,235.1h0 M259.5,228.7h0 M197.1,228.6h0 M120.2,237.0h0 M235.6,235.5h0 M129.9,246.2h0 M255.0,237.7h0 M111.5,243.8h0 M264.3,228.4h0 M59.3,231.0h0 M208.7,225.1h0 M110.2,229.0h0 M139.7,238.0h0 M186.9,229.3h0 M55.6,234.1h0 M95.1,227.2h0 M68.6,229.2h0 M209.9,238.2h0 M94.6,231.4h0 M156.2,260.4h0 M118.5,233.6h0 M97.9,225.2h0 M253.3,219.6h0 M158.3,257.9h0 M190.0,234.0h0 M202.0,246.9h0 M228.0,232.3h0 M104.0,234.4h0 M62.9,246.3h0 M149.3,239.4h0 M83.2,227.3h0 M50.0,236.5h0 M249.9,234.0h0 M184.7,238.4h0 M137.6,227.8h0 M75.8,241.8h0 M214.7,233.6h0 M163.9,227.9h0 M84.2,231.0h0 M263.8,228.2h0 M256.8,232.4h0 M251.5,239.5h0 M229.2,231.6h0 M163.6,239.0h0 M112.2,238.5h0 M190.3,229.2h0 M79.1,222.8h0 M182.6,224.6h0 M60.1,242.3h0 M48.5,238.1h0 M204.5,242.5h0 M121.6,224.2h0 M200.4,227.2h0 M218.8,226.6h0 M231.1,237.4h0 M182.3,240.0h0 M233.7,230.9h0 M191.9,230.8h0 M251.6,237.3h0 M244.8,230.4h0 M55.1,227.0h0 M105.0,229.8h0 M131.9,239.2h0 M101.5,245.9h0 M84.8,233.2h0 M239.6,230.3h0 M51.0,233.2h0 M85.9,234.3h0 M214.4,236.2h0 M95.1,226.5h0 M102.9,231.8h0 M260.5,230.6h0 M215.0,238.1h0 M145.2,240.9h0 M75.7,230.3h0 M105.3,238.3h0 M263.6,240.1h0 M221.3,233.7h0 M61.0,223.1h0 M202.6,230.1h0 M129.0,221.8h0 M205.5,232.3h0 M111.1,233.6h0 M74.4,241.0h0 M49.8,235.4h0 M111.2,221.5h0 M236.7,229.1h0 M243.6,226.4h0 M197.3,226.6h0 M211.7,231.5h0 M88.7,232.8h0 M124.2,230.8h0 M245.3,226.8h0 M264.7,228.2h0 M143.9,232.4h0 M217.9,230.3h0 M252.9,236.7h0 M267.1,233.2h0 M111.2,237.9h0 M190.8,224.6h0 M132.1,246.6h0 M148.8,242.2h0 M148.1,223.3h0 M107.4,233.8h0 M49.7,239.2h0 M215.8,231.5h0 M200.2,222.6h0 M232.3,232.5h0 M79.5,227.2h0 M98.1,230.7h0 M178.0,235.1h0 M253.7,209.7h0 M150.3,242.6h0 M90.1,235.1h0 M177.6,235.9h0 M258.3,228.8h0 M238.4,228.6h0 M245.3,226.1h0 M136.7,231.8h0 M103.8,241.3h0 M239.0,227.7h0 M220.6,233.5h0 M234.7,233.4h0 M132.4,242.3h0 M109.1,235.4h0 M98.9,236.4h0 M239.0,231.7h0 M249.8,241.4h0 M127.1,231.4h0 M239.9,230.5h0 M130.2,239.6h0 M145.0,240.8h0 M171.4,240.4h0 M94.7,225.2h0 M104.9,248.8h0 M104.7,233.8h0 M103.3,242.8h0 M160.0,252.5h0 M67.8,225.6h0 M218.9,235.7h0 M84.3,230.4h0 M144.1,241.7h0 M188.1,218.3h0 M76.1,225.1h0 M136.4,225.0h0 M170.6,244.0h0 M167.8,244.4h0 M243.9,224.0h0 M220.0,232.7h0 M72.3,233.2h0 M230.7,229.1h0 M167.7,245.6h0 M196.2,226.1h0 M81.0,231.3h0 M150.4,239.9h0 M201.0,236.0h0 M222.7,227.9h0 M224.6,236.3h0 M93.7,224.8h0 M230.6,223.6h0 M171.8,228.0h0 M194.1,227.9h0 M234.7,227.0h0 M135.6,251.2h0 M249.9,225.7h0 M241.3,233.3h0 M225.0,230.7h0 M129.9,233.8h0 M162.9,252.7h0 M83.9,235.1h0 M214.3,226.9h0 M243.5,221.6h0 M81.2,235.7h0 M211.0,237.6h0 M199.8,221.4h0 M53.6,237.5h0 M249.3,217.1h0 M152.0,246.2h0 M105.3,237.5h0 M52.2,224.6h0 M219.2,219.7h0 M120.5,241.4h0 M159.6,240.2h0 M88.7,233.3h0 M180.4,221.9h0 M133.8,234.9h0 M224.8,242.3h0 M193.6,228.0h0 M205.9,225.0h0 M101.3,217.0h0 M59.7,219.5h0 M241.1,226.6h0 M253.4,233.0h0 M188.5,235.2h0 M250.3,233.4h0 M202.5,237.1h0 M180.1,234.1h0 M138.6,250.8h0 M124.5,230.4h0 M154.3,253.3h0 M94.9,213.7h0 M140.5,228.7h0 M158.3,258.6h0 M52.4,227.5h0 M132.9,240.6h0 M108.7,235.6h0 M186.4,244.6h0 M225.9,221.5h0 M182.0,227.9h0 M193.0,239.6h0 M181.9,232.4h0 M102.4,224.9h0 M129.1,228.4h0 M233.1,228.8h0 M255.7,237.3h0 M85.7,235.8h0 M47.8,230.7h0 M259.2,225.1h0 M236.5,237.1h0 M180.5,239.9h0 M227.0,223.5h0 M177.6,239.0h0 M246.6,224.0h0 M99.6,229.7h0 M144.2,229.8h0 M194.5,219.5h0 M93.4,226.7h0 M204.4,226.1h0 M103.8,237.7h0 M203.3,236.2h0 M224.2,227.0h0 M139.7,223.1h0 M265.5,221.8h0 M185.8,215.8h0 M213.6,229.3h0 M50.0,230.0h0 M70.5,224.5h0 M203.6,231.3h0 M255.1,231.8h0 M185.1,239.0h0 M248.4,224.6h0 M58.6,238.8h0 M243.7,227.9h0 M240.5,241.2h0 M185.2,224.2h0 M140.9,241.2h0 M202.2,225.6h0 M99.7,242.3h0 M193.9,234.5h0 M199.8,223.3h0 M165.5,244.8h0 M103.3,230.9h0 M45.9,234.7h0 M89.0,247.3h0 M230.8,229.3h0 M92.6,228.4h0 M62.0,239.0h0 M100.3,227.5h0 M160.9,252.9h0 M175.8,239.9h0 M240.4,231.4h0 M235.5,236.1h0 M260.8,215.6h0 M242.0,242.1h0 M145.5,231.9h0 M77.0,224.6h0 M257.9,245.0h0 M96.3,243.3h0 M183.7,228.0h0 M104.2,234.7h0 M227.0,228.8h0 M90.1,223.6h0 M139.0,236.0h0 M94.3,238.7h0 M236.7,250.2h0 M183.1,230.5h0 M185.7,238.1h0 M115.4,229.3h0 M84.7,229.8h0 M236.0,240.9h0 M215.4,219.5h0 M208.7,224.0h0 M267.1,225.6h0 M169.8,243.5h0 M85.1,234.2h0 M180.9,235.9h0 M109.3,234.3h0 M159.5,259.0h0 M147.6,236.0h0 M170.7,233.3h0 M250.3,228.9h0 M225.6,234.9h0 M137.7,224.2h0 M227.1,230.1h0 M236.7,250.2h0 M217.5,235.8h0 M168.0,237.1h0 M245.4,224.8h0 M154.8,257.0h0 M69.0,233.1h0 M105.9,236.0h0 M191.6,227.0h0 M129.7,235.0h0 M139.4,237.7h0 M134.9,237.6h0 M88.1,227.6h0 M66.2,235.1h0 M56.4,242.9h0 M194.9,227.2h0 M117.5,236.3h0 M147.0,235.9h0 M253.3,228.8h0 M184.8,223.5h0 M225.7,224.2h0 M214.9,235.4h0 M257.5,232.5h0 M60.3,240.3h0 M130.8,220.4h0 M256.5,228.4h0 M148.7,230.9h0 M256.1,233.6h0 M86.6,245.5h0 M58.9,220.9h0 M244.5,230.8h0 M136.9,231.9h0 M158.4,254.4h0 M253.6,227.0h0 M94.2,227.7h0 M260.7,242.3h0 M133.6,224.8h0 M100.5,235.0h0 M97.4,234.6h0 M160.7,235.9h0 M149.3,235.0h0 M242.4,233.7h0 M56.8,244.2h0 M55.2,230.3h0 M79.4,227.7h0 M180.1,232.8h0 M219.1,240.0h0 M152.1,252.3h0 M181.9,240.6h0 M188.3,230.1h0 M49.7,225.8h0 M100.2,224.3h0 M267.2,236.4h0 M119.0,229.9h0 M255.9,227.6h0 M154.9,258.7h0 M94.9,232.4h0 M46.0,216.8h0 M93.8,230.0h0 M116.9,225.4h0 M143.1,238.2h0 M144.9,236.1h0 M167.3,249.0h0 M150.9,244.3h0 M52.8,223.2h0 M104.8,217.0h0 M259.3,223.2h0 M51.6,226.7h0 M208.6,231.0h0 M151.3,249.3h0 M202.6,232.5h0 M119.4,227.3h0 M127.7,237.2h0 M160.3,242.4h0 M247.7,238.2h0 M118.5,243.7h0 M64.5,238.4h0 M54.0,242.9h0 M241.4,240.8h0 M115.2,223.7h0 M72.0,232.8h0 M178.0,231.0h0 M233.3,223.4h0 M178.7,223.7h0 M79.2,234.9h0 M135.6,223.5h0 M104.7,228.8h0 M49.1,231.4h0 M260.1,228.4h0 M147.5,248.8h0 M75.4,236.8h0 M242.2,232.1h0 M264.4,227.2h0 M226.8,234.0h0 M101.8,232.3h0 M87.8,224.7h0 M162.2,234.7h0 M175.2,227.9h0 M240.7,222.7h0 M260.5,234.2h0 M247.8,233.5h0 M121.5,229.3h0 M175.6,235.1h0 M73.0,234.9h0 M160.8,236.2h0 M61.2,232.8h0 M70.2,238.0h0 M72.6,228.0h0 M112.5,218.8h0 M114.3,230.9h0 M202.2,223.0h0 M62.4,234.4h0 M70.2,234.8h0 M191.3,236.3h0 M195.0,232.5h0 M203.4,218.8h0 M205.5,239.4h0 M192.8,220.2h0 M168.3,243.4h0 M210.3,233.0h0 M63.6,225.6h0 M92.5,227.1h0 M210.3,229.5h0 M88.3,242.8h0 M163.4,239.6h0 M103.3,238.4h0 M141.3,216.6h0 M230.9,232.9h0 M192.3,230.2h0 M144.4,244.0h0 M106.3,234.7h0 M224.4,240.3h0 M191.5,224.8h0 M143.3,237.1h0 M238.7,227.5h0 M199.4,236.2h0 M263.4,234.8h0 M193.1,222.6h0 M245.5,238.1h0 M167.8,249.2h0 M203.3,228.6h0 M232.7,239.3h0 M65.6,234.4h0 M150.9,237.9h0 M180.1,237.8h0 M58.3,225.4h0 M220.9,236.1h0 M204.5,221.2h0 M253.6,222.3h0 M128.2,235.0h0 M149.7,243.6h0 M248.2,237.1h0 M136.9,231.5h0 M230.9,223.5h0 M139.1,243.4h0 M120.5,225.2h0 M107.1,240.5h0 M92.9,237.3h0 M141.4,246.6h0 M81.4,216.9h0 M229.5,231.0h0 M262.1,229.7h0 M67.1,236.1h0 M57.6,224.1h0 M46.3,245.9h0 M252.6,231.2h0 M61.9,216.2h0 M196.7,234.1h0 M113.0,231.3h0 M89.5,226.8h0 M100.2,237.0h0 M198.8,231.3h0 M49.5,224.8h0 M237.7,230.1h0 M171.7,231.8h0 M97.8,233.8h0 M91.8,229.2h0 M191.0,231.2h0 M185.3,221.7h0 M116.2,226.5h0 M119.7,233.2h0 M148.5,257.0h0 M247.8,226.5h0 M165.1,234.5h0 M232.2,237.7h0 M187.9,245.4h0 M170.4,242.9h0 M154.3,246.8h0 M196.8,238.8h0 M154.7,257.8h0 M206.8,229.9h0 M85.9,223.0h0 M117.1,231.6h0 M239.6,232.1h0 M133.3,236.0h0 M232.9,220.2h0 M253.9,224.1h0 M174.0,234.1h0 M68.1,241.0h0 M213.7,236.8h0 M193.5,227.5h0 M110.1,236.4h0 M237.3,225.3h0 M152.8,246.0h0 M58.1,229.4h0 M60.6,226.9h0 M96.2,228.0h0 M181.0,238.0h0 M226.7,233.6h0 M67.5,215.3h0 M50.4,239.7h0 M183.8,235.1h0 M136.5,225.4h0 M143.6,236.6h0 M227.9,237.0h0 M249.7,240.5h0 M260.5,227.7h0 M218.7,224.4h0 M46.2,221.8h0 M78.9,231.0h0 M176.0,225.7h0 M257.8,238.5h0 M63.6,230.2h0 M159.9,254.6h0 M133.6,231.1h0 M135.9,227.5h0 M105.2,224.0h0 M105.6,238.2h0 M98.4,222.7h0 M68.4,234.7h0 M168.6,243.3h0 M144.6,237.4h0 M203.9,241.5h0 M187.7,231.6h0 M257.2,229.4h0 M121.0,232.9h0 M241.6,227.7h0 M131.0,234.1h0 M192.3,231.5h0 M224.4,241.3h0 M133.7,232.0h0 M144.6,242.1h0 M185.8,234.8h0 M70.1,232.0h0 M163.7,240.5h0 M66.6,242.7h0 M95.4,242.2h0 M184.0,233.9h0 M261.6,228.1h0 M267.6,228.9h0 M103.4,225.3h0 M78.0,222.4h0 M160.7,244.3h0 M143.6,235.6h0 M129.8,239.0h0 M216.3,237.9h0 M203.2,234.6h0 M170.3,233.2h0 M183.6,230.3h0 M174.8,233.2h0 M195.9,232.5h0 M251.7,227.1h0 M255.9,230.0h0 M263.2,229.4h0 M236.6,229.3h0 M68.7,235.2h0 M145.9,244.3h0 M219.2,228.0h0 M110.9,228.6h0 M180.3,233.7h0 M57.7,234.3h0 M90.7,215.7h0 M134.4,237.6h0 M61.1,232.9h0 M139.8,231.8h0 M96.6,239.3h0 M237.0,230.6h0 M116.3,219.1h0 M130.1,225.5h0 M223.7,227.1h0 M169.9,231.3h0 M56.6,230.6h0 M93.8,224.8h0 M181.2,233.1h0" stroke="#3a3aac" stroke-width="1.75" stroke-linecap="round" fill="none" opacity="1"/>
<path d="M249.7,230.4h0 M49.0,233.0h0 M116.7,230.2h0 M172.8,230.1h0 M85.6,228.5h0 M235.3,232.9h0 M152.3,251.9h0 M127.8,232.1h0 M59.4,232.0h0 M108.0,227.7h0 M176.5,234.3h0 M108.0,232.3h0 M55.5,229.0h0 M174.3,235.2h0 M113.0,232.2h0 M233.6,225.5h0 M199.2,226.3h0 M205.8,229.3h0 M243.3,230.6h0 M225.5,235.0h0 M118.6,229.7h0 M171.9,234.2h0 M103.0,230.8h0 M90.3,233.4h0 M91.2,231.6h0 M70.1,232.2h0 M98.6,230.5h0 M95.4,226.5h0 M195.0,230.4h0 M101.4,237.5h0 M55.8,235.0h0 M139.2,239.3h0 M90.1,234.4h0 M198.7,229.6h0 M94.7,230.1h0 M169.3,238.0h0 M84.6,230.6h0 M152.6,251.0h0 M238.2,236.6h0 M112.9,236.6h0 M162.6,246.8h0 M143.0,230.3h0 M61.0,236.3h0 M50.1,227.2h0 M232.7,226.9h0 M121.1,232.3h0 M198.0,231.8h0 M137.2,235.3h0 M231.8,231.7h0 M88.8,229.2h0 M153.0,249.3h0 M167.4,233.9h0 M221.9,227.4h0 M52.0,230.4h0 M126.0,230.7h0 M151.1,245.0h0 M176.3,231.8h0 M76.9,235.5h0 M166.3,237.0h0 M199.6,230.9h0 M208.4,234.6h0 M95.3,224.0h0 M143.4,239.0h0 M111.7,234.7h0 M131.6,231.2h0 M126.2,238.7h0 M255.5,234.4h0 M48.4,237.0h0 M256.1,235.0h0 M52.8,232.1h0 M62.8,230.5h0 M91.3,227.7h0 M109.2,228.8h0 M236.1,227.4h0 M232.4,229.5h0 M253.2,233.3h0 M132.1,228.3h0 M49.0,233.3h0 M184.6,234.2h0 M245.3,226.2h0 M69.3,228.8h0 M229.5,230.8h0 M45.9,228.9h0 M208.2,228.5h0 M155.1,261.1h0 M247.3,231.9h0 M240.0,235.8h0 M55.8,231.2h0 M156.2,263.1h0 M99.3,226.8h0 M143.1,233.6h0 M60.2,234.5h0 M125.6,231.9h0 M136.3,237.2h0 M46.3,231.5h0 M150.9,242.5h0 M244.3,230.7h0 M59.0,238.4h0 M255.5,232.8h0 M154.2,251.3h0 M92.3,230.5h0 M260.9,227.5h0 M150.7,248.6h0 M142.6,233.3h0 M129.1,234.3h0 M241.4,230.9h0 M74.3,230.2h0 M92.2,229.2h0 M108.4,233.7h0 M59.3,230.9h0 M233.1,235.8h0 M154.1,257.6h0 M179.2,230.6h0 M242.3,231.8h0 M155.4,263.3h0 M106.9,234.6h0 M163.5,242.1h0 M156.7,256.9h0 M111.9,227.9h0 M97.0,228.8h0 M125.0,238.2h0 M208.8,232.0h0 M82.2,229.9h0 M266.9,230.2h0 M97.8,230.1h0 M106.1,232.4h0 M72.8,225.4h0 M132.6,227.1h0 M128.1,232.3h0 M197.0,235.1h0 M244.6,224.3h0 M100.6,233.6h0 M225.4,227.4h0 M114.0,224.9h0 M135.9,236.2h0 M74.0,230.6h0 M243.9,232.8h0 M128.4,230.2h0 M201.2,230.5h0 M51.3,224.7h0 M200.4,229.5h0 M95.8,231.6h0 M145.8,233.4h0 M195.2,232.7h0 M83.4,232.9h0 M162.6,235.8h0 M231.2,234.5h0 M81.8,233.3h0 M149.4,241.6h0 M86.4,235.4h0 M77.3,239.1h0 M154.4,249.9h0 M147.0,241.3h0 M188.6,233.7h0 M236.1,232.9h0 M202.5,235.1h0 M120.2,235.5h0 M153.5,250.3h0 M195.2,223.2h0 M231.9,229.0h0 M197.2,229.0h0 M157.2,265.4h0 M75.1,231.7h0 M238.5,235.8h0 M108.0,228.9h0 M135.5,233.6h0 M242.1,231.5h0 M91.5,231.9h0 M248.6,233.7h0 M96.4,237.0h0 M64.8,229.6h0 M159.6,255.9h0 M222.2,235.8h0 M134.9,233.7h0 M232.8,234.1h0 M133.6,231.5h0 M226.6,228.0h0 M70.5,230.7h0 M108.4,230.9h0 M72.7,231.5h0 M209.9,228.6h0 M149.8,249.0h0 M191.2,230.4h0 M98.4,234.9h0 M208.8,236.0h0 M266.1,231.6h0 M63.0,233.0h0 M116.3,229.6h0 M238.7,227.7h0 M234.8,239.9h0 M239.3,231.9h0 M95.8,224.7h0 M170.6,232.0h0 M64.6,226.5h0 M141.3,234.1h0 M173.5,238.9h0 M102.9,235.6h0 M139.3,231.2h0 M126.9,228.5h0 M64.3,234.2h0 M60.7,232.6h0 M219.1,230.7h0 M46.1,237.8h0 M264.7,232.9h0 M244.9,225.9h0 M264.9,223.8h0 M220.1,232.0h0 M46.0,225.1h0 M71.2,233.5h0 M116.3,234.5h0 M85.8,239.6h0 M58.9,228.2h0 M249.3,232.9h0 M247.8,223.3h0 M216.0,230.4h0 M101.7,230.9h0 M234.9,238.0h0 M227.5,226.3h0 M117.4,233.0h0 M73.8,232.2h0 M75.6,239.4h0 M136.4,229.7h0 M230.4,228.1h0 M62.4,233.8h0 M141.0,234.0h0 M124.3,230.4h0 M243.8,228.2h0 M79.5,231.2h0 M191.2,225.6h0 M117.3,232.5h0 M189.2,234.0h0 M228.2,233.3h0 M228.8,240.6h0 M233.4,234.5h0 M110.5,228.0h0 M106.8,230.7h0 M72.7,234.5h0 M102.2,230.4h0 M72.0,238.8h0 M219.7,232.6h0 M56.0,229.7h0 M88.1,229.1h0 M221.1,234.3h0 M216.3,228.4h0 M261.8,225.0h0 M130.7,233.7h0 M55.5,229.0h0 M225.1,237.1h0 M109.1,238.6h0 M217.3,229.4h0" stroke="#3636a4" stroke-width="1.75" stroke-linecap="round" fill="none" opacity="1"/>
<path d="M73.4,273.7h0 M105.3,278.0h0 M195.5,273.1h0 M136.0,276.3h0 M172.2,277.6h0 M209.2,275.4h0 M191.9,272.6h0 M236.5,274.5h0 M64.5,277.5h0 M111.5,274.6h0 M53.0,274.0h0 M161.3,293.0h0 M182.1,277.5h0 M101.9,276.7h0 M57.8,277.3h0 M148.6,284.1h0 M82.7,273.3h0 M88.7,271.2h0 M130.2,273.4h0 M255.5,273.3h0 M125.5,273.3h0 M203.1,272.6h0 M128.3,277.1h0 M135.5,275.3h0 M76.6,275.0h0 M86.5,276.1h0 M216.8,276.9h0 M140.9,279.8h0 M108.9,276.5h0 M264.9,278.8h0 M240.7,274.5h0 M104.2,275.9h0 M142.0,278.8h0 M171.5,278.1h0 M82.4,274.0h0 M140.4,279.8h0 M108.6,276.1h0 M225.6,279.7h0 M66.5,281.2h0 M265.8,280.5h0 M97.8,272.1h0 M119.1,280.4h0 M62.3,274.6h0 M248.4,272.2h0 M229.5,276.9h0 M60.5,271.8h0 M162.9,283.4h0 M132.3,274.2h0 M180.2,270.8h0 M120.1,274.4h0 M258.0,277.6h0 M93.9,274.5h0 M227.8,276.9h0 M105.0,279.0h0 M189.8,279.1h0 M140.6,272.8h0 M162.4,290.2h0 M161.5,290.8h0 M184.6,277.8h0 M60.6,275.4h0 M58.7,276.4h0 M261.3,276.8h0 M101.7,278.7h0 M124.8,279.5h0 M98.7,277.6h0 M189.0,275.3h0 M264.2,270.7h0 M135.0,274.3h0 M116.9,271.4h0 M123.1,274.8h0 M51.5,276.0h0 M65.4,279.0h0 M56.1,275.8h0 M117.5,281.1h0 M264.3,276.5h0 M76.9,271.8h0 M167.5,280.9h0 M91.5,273.0h0 M53.6,276.7h0 M231.5,279.1h0 M73.7,276.9h0 M75.5,276.7h0 M227.1,272.8h0 M99.6,270.9h0 M89.7,277.6h0 M255.1,276.6h0 M88.7,276.1h0 M230.3,276.6h0 M113.6,278.8h0 M171.2,278.8h0 M114.6,274.9h0 M120.9,274.9h0 M252.7,278.7h0 M247.2,276.0h0 M84.3,280.0h0 M206.5,273.5h0 M76.5,278.2h0 M112.0,276.4h0 M61.2,276.8h0 M189.5,277.4h0 M206.9,278.3h0 M211.4,280.1h0 M217.6,271.5h0 M133.2,275.9h0 M84.8,275.1h0 M46.4,270.6h0 M143.3,280.0h0 M252.9,274.4h0 M145.2,281.1h0 M182.3,273.4h0 M249.2,274.5h0 M237.2,275.0h0 M209.9,276.4h0 M177.1,276.4h0 M97.0,272.9h0 M211.9,280.8h0 M138.3,277.9h0 M202.5,276.8h0 M95.1,276.5h0 M254.6,280.5h0 M81.9,273.9h0 M221.2,277.8h0 M243.4,276.3h0 M79.3,277.0h0 M237.7,279.8h0 M188.7,277.0h0 M179.6,281.1h0 M101.9,278.0h0 M118.5,276.6h0 M97.7,275.7h0 M143.6,279.8h0 M189.5,276.2h0 M207.4,270.5h0 M202.3,274.7h0 M122.6,278.9h0 M120.2,277.3h0 M215.2,277.3h0 M261.9,276.2h0 M94.7,277.2h0 M137.2,279.4h0 M106.8,271.7h0 M262.1,275.6h0 M49.1,276.5h0 M243.8,276.3h0 M216.1,276.3h0 M119.2,272.4h0 M196.7,274.6h0 M127.6,273.3h0 M187.0,283.6h0 M140.0,277.3h0 M248.9,273.1h0 M147.2,278.3h0 M226.0,275.6h0 M173.6,282.2h0 M128.2,274.7h0 M260.3,277.2h0 M88.9,280.1h0 M247.3,277.2h0 M263.6,273.1h0 M234.2,272.8h0 M181.1,274.7h0 M183.8,278.7h0 M251.8,269.6h0 M141.7,281.7h0 M228.7,275.9h0 M217.6,279.2h0 M236.3,272.5h0 M143.4,278.7h0 M190.5,273.7h0 M66.0,275.5h0 M61.5,275.9h0 M69.3,275.3h0 M208.9,280.3h0 M124.4,273.5h0 M247.4,273.5h0 M63.1,276.7h0 M83.8,275.7h0 M231.4,275.0h0 M138.5,273.8h0 M94.4,274.6h0 M219.1,275.6h0 M97.6,276.9h0 M261.8,279.4h0 M106.6,277.2h0 M236.3,275.5h0 M152.1,292.1h0 M253.4,275.5h0 M111.3,273.9h0 M251.1,274.6h0 M112.8,275.1h0 M145.1,279.4h0 M186.1,275.6h0 M168.7,280.6h0 M194.6,274.6h0 M200.2,279.9h0 M105.0,272.6h0 M47.4,278.8h0 M206.3,273.7h0 M178.9,276.7h0 M170.7,276.6h0 M155.6,303.2h0 M251.8,278.0h0 M111.5,273.1h0 M248.2,275.2h0 M82.8,275.4h0 M199.8,275.5h0 M254.7,273.2h0 M79.7,273.7h0 M216.6,275.1h0 M106.2,279.5h0 M58.6,276.7h0 M141.3,278.4h0 M200.8,271.3h0 M108.5,274.8h0 M256.7,275.9h0 M46.0,272.8h0 M105.0,276.0h0 M121.4,275.9h0 M127.9,275.7h0 M112.1,279.4h0 M50.2,273.3h0 M92.1,274.6h0 M103.6,276.4h0 M194.9,278.5h0 M129.3,275.6h0 M206.0,272.3h0 M143.8,281.6h0 M121.2,278.4h0 M80.8,274.6h0 M96.2,279.6h0 M245.8,281.1h0 M146.6,283.5h0 M115.1,277.4h0 M94.0,276.3h0 M240.3,277.0h0 M202.0,274.9h0 M199.8,276.2h0 M224.3,277.1h0 M99.1,276.8h0 M208.0,274.1h0 M61.3,273.3h0 M193.3,273.6h0 M117.1,274.0h0 M192.6,283.8h0 M95.8,278.1h0 M124.0,276.6h0 M194.4,275.2h0 M254.3,279.6h0 M121.2,272.3h0 M83.1,274.9h0 M73.2,277.2h0 M194.7,275.3h0 M244.3,276.5h0 M49.2,277.5h0 M122.1,274.6h0 M83.0,276.8h0 M257.7,279.1h0 M74.9,277.2h0 M60.7,275.9h0 M216.2,278.3h0 M267.5,272.6h0 M217.5,278.3h0 M70.9,271.4h0 M136.1,274.8h0 M161.1,293.9h0 M245.2,275.3h0 M212.9,272.8h0 M58.8,276.1h0 M146.2,284.9h0 M218.5,275.4h0 M166.2,278.0h0 M193.7,279.4h0 M260.5,274.3h0 M263.0,275.6h0 M231.5,275.9h0 M172.6,279.3h0 M113.8,276.5h0 M81.0,273.1h0 M82.7,274.2h0 M187.8,278.3h0 M217.3,271.8h0 M236.3,278.8h0 M248.6,274.0h0 M109.4,275.2h0 M119.8,272.8h0 M89.1,274.8h0 M166.4,280.1h0 M255.9,275.7h0 M213.9,273.3h0 M142.6,278.4h0 M80.8,270.4h0 M232.8,277.3h0 M244.7,272.7h0 M216.2,274.5h0 M110.4,275.2h0 M132.2,277.7h0 M175.2,276.3h0 M249.5,279.2h0 M99.4,279.0h0 M138.8,275.9h0 M58.8,279.4h0 M46.2,272.1h0 M99.6,276.3h0 M225.3,275.0h0 M195.6,275.5h0 M151.4,288.9h0 M136.5,277.7h0 M104.3,276.5h0 M215.7,275.9h0 M153.9,294.0h0 M61.0,272.8h0 M184.9,272.9h0 M266.2,274.7h0 M61.6,276.1h0 M267.1,279.7h0 M67.6,274.0h0 M113.9,273.6h0 M262.5,276.6h0 M261.5,273.6h0 M86.5,272.5h0 M205.6,275.4h0 M181.6,273.7h0 M133.9,275.8h0 M219.7,279.9h0 M186.5,277.1h0 M95.5,276.6h0 M154.4,297.1h0 M203.2,277.7h0 M183.6,277.2h0 M166.2,285.2h0 M209.4,275.7h0 M75.4,275.4h0 M55.0,273.2h0 M52.8,273.7h0 M183.4,275.7h0 M142.0,278.3h0 M231.2,275.3h0 M261.4,275.3h0 M70.4,271.8h0 M129.7,282.2h0 M138.7,278.0h0 M166.9,281.3h0 M247.6,272.9h0 M178.8,279.3h0 M113.2,274.8h0 M192.8,273.6h0 M118.6,276.8h0 M168.9,285.0h0 M67.4,276.5h0 M170.8,282.0h0 M151.8,289.3h0 M188.9,277.9h0 M171.4,274.5h0 M172.8,277.9h0 M209.3,277.6h0 M75.1,276.8h0 M212.5,278.3h0 M184.1,275.1h0 M198.5,272.0h0 M134.3,277.1h0 M64.4,273.4h0 M250.4,277.9h0 M229.3,274.9h0 M262.4,270.0h0 M147.8,287.2h0 M242.1,272.6h0 M239.2,272.7h0 M167.7,285.9h0 M245.6,279.1h0 M226.5,278.0h0 M68.3,273.2h0 M75.2,276.7h0 M136.0,277.3h0 M163.9,284.1h0 M190.5,275.5h0 M170.9,278.5h0 M240.2,276.4h0 M223.4,272.9h0 M68.2,277.5h0 M120.9,271.6h0 M242.8,276.4h0 M213.3,277.6h0 M49.0,274.0h0 M184.8,274.9h0 M73.5,280.5h0 M157.4,303.5h0 M266.4,278.9h0 M62.2,277.6h0 M228.5,273.7h0 M153.0,295.9h0 M263.0,274.8h0 M236.5,276.5h0 M59.9,270.9h0 M188.5,276.1h0 M236.7,278.5h0 M107.5,278.3h0 M202.1,277.9h0 M102.0,275.3h0 M91.1,275.6h0 M119.3,273.4h0 M110.6,275.2h0 M259.4,275.3h0 M97.7,274.8h0 M139.8,278.3h0 M153.4,294.5h0 M199.1,273.8h0 M261.1,273.7h0 M181.9,277.6h0 M236.8,280.0h0 M74.7,277.6h0 M192.5,275.1h0 M83.8,281.7h0 M239.1,276.8h0 M177.8,275.7h0 M75.7,277.0h0 M234.4,278.4h0 M162.2,284.8h0 M153.4,291.7h0 M63.5,276.3h0 M247.1,272.4h0 M159.7,292.3h0 M237.6,278.4h0 M62.2,269.1h0 M196.5,278.0h0 M128.9,276.7h0 M164.7,287.4h0 M184.2,275.9h0 M229.0,278.9h0 M250.7,275.7h0 M82.5,273.0h0 M236.5,275.1h0 M71.4,276.3h0 M47.9,271.9h0 M112.4,277.9h0 M108.7,273.3h0 M216.9,276.4h0 M170.0,279.1h0 M131.7,276.3h0 M221.2,275.4h0 M253.5,275.8h0 M188.0,277.8h0 M190.6,277.2h0 M237.0,274.6h0 M110.5,276.0h0 M266.8,278.5h0 M84.6,277.4h0 M55.5,277.4h0 M228.4,275.8h0 M84.2,275.3h0 M120.0,275.6h0 M159.5,297.6h0 M70.2,275.7h0 M139.7,281.3h0 M124.1,282.9h0 M64.5,275.8h0 M179.5,280.6h0 M145.7,283.9h0 M81.0,278.7h0 M220.6,274.2h0 M136.6,280.1h0 M51.2,275.0h0 M240.9,276.9h0 M136.4,280.1h0 M65.9,279.6h0 M109.7,274.6h0 M102.1,274.8h0 M55.2,273.8h0 M119.0,271.4h0 M83.0,275.1h0 M92.9,275.1h0 M195.3,276.1h0 M80.7,275.5h0 M50.2,276.6h0 M85.1,277.9h0 M111.1,270.9h0 M82.1,280.3h0 M178.2,276.2h0 M241.0,274.7h0 M230.1,275.4h0 M150.0,289.6h0 M220.1,276.2h0 M221.2,276.9h0 M186.5,278.7h0 M223.9,275.9h0 M129.6,277.3h0 M211.7,277.1h0 M161.6,288.7h0 M209.6,278.4h0 M209.8,274.7h0 M60.1,277.3h0 M230.8,274.7h0 M53.5,275.6h0 M140.5,277.8h0 M176.8,279.6h0 M228.5,277.7h0 M58.3,277.9h0 M194.7,275.5h0 M122.1,274.1h0 M54.6,273.2h0 M119.3,277.1h0 M187.9,275.9h0 M63.9,279.8h0 M234.0,281.2h0 M55.0,277.9h0 M98.6,277.4h0 M118.7,279.7h0 M59.7,280.2h0 M251.2,274.5h0 M260.3,277.8h0 M246.6,279.9h0 M89.7,270.2h0 M230.7,275.4h0 M120.5,276.7h0 M109.6,274.2h0 M198.8,277.7h0 M64.4,272.0h0 M46.7,279.6h0 M252.4,279.0h0 M124.1,276.4h0 M222.2,277.7h0 M140.1,274.9h0 M66.1,279.8h0 M150.9,290.9h0 M83.5,275.3h0 M63.4,274.5h0 M49.7,273.4h0 M134.6,276.1h0 M102.9,270.5h0 M120.1,277.1h0 M259.2,275.4h0 M229.8,273.8h0 M202.4,276.7h0 M99.7,276.6h0 M212.1,277.0h0 M200.6,277.5h0 M162.8,290.8h0 M98.6,277.2h0 M91.7,279.7h0 M138.7,276.9h0 M106.9,279.8h0 M242.1,270.9h0 M149.0,281.6h0 M196.1,273.3h0 M244.9,276.4h0 M183.5,277.8h0 M81.2,272.9h0 M116.4,275.5h0 M250.5,274.5h0 M55.7,277.7h0 M94.7,273.3h0 M182.8,278.4h0 M235.3,275.7h0 M227.8,280.1h0 M207.9,277.5h0 M201.6,274.7h0 M128.5,277.4h0 M59.1,277.0h0 M186.8,274.3h0 M61.6,276.1h0 M222.9,272.9h0 M74.6,281.8h0 M50.9,274.5h0 M267.6,274.7h0 M82.7,279.7h0 M174.8,281.0h0 M59.1,273.8h0 M263.5,278.5h0 M49.2,277.5h0 M198.4,274.5h0 M233.0,276.7h0 M111.3,274.8h0 M47.2,278.0h0 M53.7,275.2h0 M59.0,273.3h0 M213.2,275.1h0 M162.9,293.2h0 M244.7,274.3h0 M186.1,276.1h0 M177.5,279.4h0 M90.3,272.5h0 M95.2,280.2h0 M263.0,271.4h0 M257.1,277.5h0 M142.8,275.8h0 M222.2,276.0h0 M205.5,279.2h0 M107.2,275.7h0 M89.9,275.1h0 M211.9,274.6h0 M259.4,273.4h0 M264.1,278.1h0 M124.9,275.0h0 M60.0,274.1h0 M116.4,276.7h0 M61.0,278.2h0 M265.0,278.3h0 M113.7,274.2h0 M233.9,274.0h0 M100.2,278.0h0 M258.8,279.2h0 M154.2,294.9h0 M230.8,279.7h0 M178.7,276.6h0 M215.7,277.9h0 M61.7,280.2h0 M64.9,275.6h0 M124.9,276.6h0 M240.5,272.4h0 M247.6,270.4h0 M203.4,276.4h0 M178.5,274.5h0 M56.4,273.4h0 M251.8,277.2h0 M192.1,278.2h0 M182.4,272.6h0 M232.6,276.8h0 M98.0,276.0h0 M183.3,277.2h0 M197.3,276.3h0 M213.5,277.4h0 M66.5,274.1h0 M207.3,272.9h0 M246.1,276.8h0 M185.1,279.7h0 M83.2,275.8h0 M249.7,279.6h0 M68.2,277.5h0 M96.7,272.9h0 M235.5,270.3h0 M176.3,276.5h0 M120.1,278.6h0 M224.1,274.0h0 M189.4,281.6h0 M71.7,277.6h0 M97.1,272.2h0 M225.6,274.1h0 M225.8,279.3h0 M62.0,280.0h0 M161.4,289.0h0 M204.0,276.1h0 M117.8,277.5h0 M59.4,274.9h0 M138.2,279.2h0 M253.3,280.6h0 M207.8,274.0h0 M92.9,277.5h0 M233.2,278.4h0 M193.9,279.3h0 M110.0,275.4h0 M105.2,277.9h0 M84.8,274.4h0 M135.4,277.8h0 M125.5,273.6h0 M108.9,276.9h0 M239.7,277.5h0 M214.6,280.7h0 M155.0,303.5h0 M259.5,274.2h0 M195.2,268.6h0 M257.1,279.0h0 M228.8,278.5h0 M186.5,275.4h0 M199.7,274.8h0 M217.7,277.6h0 M213.8,275.7h0 M239.6,279.8h0 M121.0,276.8h0 M126.2,274.0h0 M100.3,272.0h0 M250.4,276.3h0 M246.4,276.6h0 M143.7,279.1h0 M134.6,274.3h0 M74.9,274.8h0 M262.2,277.8h0 M194.8,275.2h0 M259.6,273.6h0 M186.0,278.0h0 M159.7,298.9h0 M211.9,274.7h0 M242.6,275.0h0 M233.3,273.6h0 M122.4,275.9h0 M158.1,302.8h0 M255.5,277.0h0 M158.0,304.1h0 M223.7,278.2h0 M162.1,290.8h0 M230.5,277.1h0 M60.6,273.2h0 M45.7,278.9h0 M65.6,276.0h0 M142.4,280.9h0 M127.1,272.6h0 M258.6,275.3h0 M267.1,276.8h0 M75.4,273.9h0 M230.9,275.8h0 M158.6,300.4h0 M232.5,272.2h0 M127.5,274.5h0 M217.2,271.7h0 M46.5,273.1h0 M149.4,284.5h0 M119.4,275.7h0 M101.5,278.6h0 M112.3,274.2h0 M138.6,277.7h0 M155.7,302.1h0 M162.2,289.4h0 M208.7,277.6h0 M229.2,278.4h0 M259.2,274.2h0 M194.2,272.9h0 M102.5,276.6h0 M174.1,276.9h0 M142.9,276.4h0 M97.7,277.9h0 M119.3,276.8h0 M96.4,278.6h0 M165.2,281.4h0 M60.2,275.3h0 M166.2,284.2h0 M137.0,281.4h0 M46.9,276.3h0 M106.8,273.5h0 M261.3,276.6h0 M174.3,279.0h0 M59.9,274.3h0 M173.9,281.1h0 M201.9,275.8h0 M75.4,274.4h0 M135.0,278.9h0 M93.0,277.9h0 M166.1,282.6h0 M228.3,276.1h0 M98.7,276.5h0 M76.5,275.4h0 M76.4,275.4h0 M182.0,278.8h0 M60.9,277.5h0 M162.5,287.6h0 M225.5,273.2h0 M215.8,272.6h0 M194.4,278.0h0 M47.9,273.2h0 M141.4,277.1h0 M99.6,276.0h0 M160.0,293.6h0 M79.2,273.9h0 M75.5,271.6h0 M256.9,278.4h0 M241.2,274.4h0 M67.2,276.2h0 M229.5,276.4h0 M60.1,273.1h0 M120.8,274.0h0 M266.4,278.3h0 M254.5,276.6h0 M149.4,285.7h0 M201.5,279.3h0 M130.5,274.3h0 M234.1,276.1h0 M115.7,275.5h0 M91.3,275.1h0 M77.6,271.5h0 M185.7,276.1h0 M169.4,281.1h0 M246.1,271.7h0 M78.1,277.1h0 M224.3,277.1h0 M255.3,279.2h0 M211.5,273.3h0 M71.0,275.2h0 M79.6,274.7h0 M65.0,275.5h0 M119.7,276.3h0 M214.2,277.8h0 M77.7,277.8h0 M145.3,280.3h0 M55.3,275.6h0 M196.2,272.0h0 M67.4,277.7h0 M221.7,277.0h0 M181.6,279.0h0 M87.8,272.5h0 M200.7,278.9h0 M123.1,274.2h0 M161.9,286.5h0 M169.2,280.7h0 M105.8,274.1h0 M138.2,282.8h0 M220.2,276.8h0 M237.6,279.9h0 M234.1,275.5h0 M171.8,278.9h0 M239.4,277.7h0 M76.7,273.6h0 M264.1,275.0h0 M55.5,277.1h0 M245.3,277.1h0 M221.4,279.4h0 M132.2,277.0h0 M221.1,270.7h0 M258.3,277.6h0 M81.9,274.8h0 M189.8,277.4h0 M46.4,273.9h0 M193.1,274.9h0 M59.1,276.4h0 M193.9,280.3h0 M51.4,277.1h0 M135.1,274.1h0 M238.1,276.5h0 M113.6,274.4h0 M260.9,277.0h0 M150.2,292.2h0 M85.9,274.8h0 M253.6,275.1h0 M80.0,277.3h0 M177.5,278.0h0 M255.0,275.2h0 M254.5,277.3h0 M169.0,279.7h0 M92.6,276.4h0 M156.7,312.9h0 M110.4,276.2h0 M115.3,277.4h0 M116.0,277.9h0 M90.3,274.9h0 M54.1,277.0h0 M212.3,274.6h0 M48.3,273.2h0 M172.9,278.1h0 M127.1,279.9h0 M189.9,277.8h0 M174.5,275.6h0 M151.9,292.0h0 M218.3,277.8h0 M172.6,278.7h0 M245.2,274.6h0 M175.5,276.9h0 M240.3,274.3h0 M237.5,277.8h0 M202.6,276.5h0 M118.7,276.5h0 M153.6,296.0h0 M63.0,280.9h0 M206.7,276.4h0 M189.1,279.3h0 M227.4,272.5h0 M64.2,272.1h0 M74.0,271.8h0 M189.1,274.1h0 M208.2,277.0h0 M61.8,273.5h0 M52.3,276.3h0 M117.6,274.4h0 M120.9,278.1h0 M57.0,277.3h0 M67.1,274.7h0 M90.8,271.6h0 M48.6,275.9h0 M78.3,270.4h0 M51.2,269.2h0 M127.7,279.3h0 M211.9,275.9h0 M192.5,278.3h0 M179.8,277.0h0 M149.4,287.6h0 M87.1,276.0h0 M56.2,273.5h0 M86.7,273.6h0 M256.0,275.2h0 M226.4,275.8h0 M172.1,278.4h0 M181.8,276.2h0 M211.1,274.5h0 M228.2,275.8h0 M99.1,274.6h0 M223.8,279.0h0 M189.6,274.1h0 M107.3,271.6h0 M109.4,275.4h0 M83.6,279.2h0 M167.1,278.8h0 M260.8,276.6h0 M221.0,283.1h0 M82.5,276.4h0 M72.1,274.4h0 M108.1,274.9h0 M82.0,272.8h0 M77.1,274.3h0 M208.1,275.5h0 M115.4,280.7h0 M171.2,281.8h0 M115.5,275.5h0 M264.3,274.2h0 M177.1,279.6h0 M76.5,277.3h0 M218.2,274.7h0 M109.9,280.5h0 M146.6,287.3h0 M109.3,276.4h0 M154.3,297.6h0 M113.8,277.0h0 M116.7,281.4h0 M80.5,275.8h0 M258.9,279.0h0 M91.6,274.3h0 M108.3,276.1h0 M136.7,276.6h0 M71.7,274.3h0 M96.4,277.1h0 M136.0,275.1h0 M175.2,274.6h0 M164.7,284.0h0 M127.4,273.0h0 M195.8,277.4h0 M211.2,273.6h0 M104.4,275.2h0 M98.7,278.2h0 M184.5,276.4h0 M136.9,278.6h0 M230.0,277.2h0 M47.6,275.6h0 M165.8,280.9h0 M123.0,276.8h0 M92.7,275.5h0 M238.4,279.4h0 M93.7,275.6h0 M220.7,273.0h0 M235.3,273.9h0 M260.5,274.7h0 M71.3,277.1h0 M80.1,278.2h0 M64.1,276.1h0 M116.7,279.1h0 M247.0,278.8h0 M188.5,273.8h0 M79.9,278.0h0 M68.9,271.5h0 M212.1,279.3h0 M184.0,275.2h0 M46.0,278.7h0 M176.0,277.0h0 M87.7,278.3h0 M110.7,275.8h0 M67.9,276.2h0 M265.8,276.9h0 M147.0,281.8h0 M182.6,272.7h0 M90.8,277.3h0 M128.8,274.1h0 M189.3,275.8h0 M211.4,275.9h0 M247.1,270.5h0 M100.5,281.1h0 M98.8,277.5h0 M135.1,281.3h0 M114.0,276.6h0 M227.6,276.4h0 M128.0,267.0h0 M128.5,275.4h0 M157.2,300.8h0 M170.8,276.2h0 M124.0,277.1h0 M47.4,274.7h0 M208.9,271.8h0 M71.0,275.4h0 M235.4,275.3h0 M100.3,274.6h0 M102.3,279.5h0 M164.5,287.2h0 M247.2,275.0h0 M130.1,275.0h0 M152.3,294.3h0 M137.6,278.3h0 M70.4,276.1h0 M109.5,276.2h0 M249.2,274.2h0 M254.3,275.6h0 M102.1,275.4h0 M250.0,279.3h0 M49.0,278.4h0 M205.2,275.1h0 M51.2,279.7h0 M140.2,277.7h0 M137.2,279.0h0 M142.1,281.2h0 M254.7,274.3h0 M123.8,277.7h0 M49.5,277.9h0 M70.0,277.5h0 M212.0,275.7h0 M74.0,269.2h0 M58.5,281.0h0 M88.9,275.9h0 M262.8,276.4h0 M144.3,278.3h0 M78.4,276.7h0 M191.8,282.0h0 M129.4,273.1h0 M168.3,283.6h0 M266.8,276.0h0 M200.9,279.2h0 M164.4,288.1h0 M267.4,277.1h0 M157.9,300.1h0 M146.1,280.1h0 M234.5,277.3h0 M258.4,274.6h0 M205.4,276.8h0 M126.6,275.9h0 M135.0,276.6h0 M47.4,274.4h0 M98.8,277.4h0 M218.2,276.2h0 M154.1,297.1h0 M235.8,275.6h0 M194.4,277.9h0 M171.3,274.9h0 M224.6,277.0h0 M156.1,303.7h0 M193.8,275.5h0 M154.3,295.3h0 M123.8,281.4h0 M215.5,270.9h0 M61.3,276.4h0 M262.7,278.9h0 M259.0,275.6h0 M230.0,270.4h0 M149.4,285.0h0 M145.5,284.5h0 M134.9,278.1h0 M147.5,280.5h0 M94.7,279.3h0 M223.1,276.3h0 M241.3,276.6h0 M156.8,301.8h0 M235.1,276.6h0 M110.3,272.7h0 M236.5,277.5h0 M261.8,277.8h0 M194.5,273.5h0 M259.5,274.4h0 M206.9,280.1h0 M199.6,274.4h0 M150.6,286.9h0 M58.8,277.4h0 M73.3,275.3h0 M229.5,275.2h0 M85.8,277.1h0 M198.0,277.3h0 M81.0,277.5h0 M213.3,276.5h0 M257.9,279.1h0 M182.9,276.5h0 M54.1,279.5h0 M209.3,275.7h0 M151.2,290.0h0 M237.9,278.4h0 M78.6,273.8h0 M107.8,271.2h0 M249.8,272.7h0 M231.6,279.2h0 M247.5,272.8h0 M161.2,291.0h0 M195.4,276.1h0 M252.8,277.3h0 M192.2,276.0h0 M64.9,272.5h0 M79.9,274.6h0 M46.0,276.9h0 M70.2,277.5h0 M51.5,276.9h0 M131.0,275.1h0 M182.5,271.9h0 M236.9,278.4h0 M136.3,277.2h0 M81.2,276.8h0 M247.5,277.7h0 M249.3,274.9h0 M262.7,274.5h0 M50.7,279.3h0 M176.8,279.8h0 M185.6,273.3h0 M164.2,284.9h0 M87.2,274.6h0 M250.1,277.1h0 M164.7,285.8h0 M53.7,274.8h0 M122.4,277.2h0 M207.1,278.6h0 M90.5,275.9h0 M218.1,273.7h0 M92.1,278.4h0 M141.6,276.4h0 M110.5,274.2h0 M73.8,278.0h0 M241.9,275.9h0 M121.2,276.1h0 M212.5,274.4h0 M243.6,274.3h0 M108.3,279.1h0 M46.7,279.1h0 M162.2,286.8h0 M97.8,275.6h0 M239.7,274.9h0 M82.1,275.1h0 M205.8,272.2h0 M51.2,278.8h0 M105.7,273.3h0 M89.2,277.9h0 M234.9,274.1h0 M178.6,273.7h0 M192.1,279.4h0 M63.8,274.9h0 M114.1,276.6h0 M243.8,276.6h0 M181.8,276.4h0 M213.9,278.4h0 M157.0,308.3h0 M91.1,274.3h0 M248.6,273.8h0 M104.1,277.3h0 M83.2,279.4h0 M189.7,270.5h0 M64.6,273.2h0 M215.4,275.0h0 M203.7,278.4h0 M130.6,277.9h0 M160.0,294.3h0 M153.7,298.6h0 M62.1,272.0h0 M63.2,275.6h0 M123.8,275.1h0 M46.9,278.4h0 M86.7,278.1h0 M126.7,278.1h0 M184.9,275.6h0 M160.1,295.1h0 M84.1,276.6h0 M214.3,275.1h0 M222.0,275.3h0 M192.8,272.4h0 M198.4,276.4h0 M101.8,278.3h0 M231.8,275.9h0 M175.5,274.0h0 M84.9,277.2h0 M197.6,275.8h0 M184.9,277.1h0 M171.9,277.9h0 M150.1,287.0h0 M215.9,277.8h0 M207.7,276.4h0 M176.4,275.1h0 M60.4,273.2h0 M97.0,273.7h0 M263.0,273.8h0 M134.9,277.8h0 M186.1,277.1h0 M74.7,273.6h0 M172.5,281.4h0 M180.8,276.8h0 M214.9,280.3h0 M260.8,276.8h0 M146.8,284.6h0 M115.0,278.8h0 M81.0,274.5h0 M119.8,277.8h0 M144.0,281.3h0 M259.8,276.5h0 M159.1,299.3h0 M195.5,272.5h0 M208.5,277.1h0 M48.5,275.4h0 M97.2,279.0h0 M165.6,285.0h0 M58.2,276.7h0 M78.9,276.6h0 M212.7,277.3h0 M195.3,275.6h0 M76.3,272.1h0 M71.7,276.2h0 M232.9,276.2h0 M150.5,289.1h0 M115.7,269.9h0 M205.3,272.0h0 M194.2,274.6h0 M266.5,274.2h0 M68.5,277.6h0 M216.3,276.2h0 M147.7,283.4h0 M100.6,275.6h0 M156.2,308.2h0 M50.0,277.7h0 M73.1,274.6h0 M69.6,275.1h0" stroke="#e8303c" stroke-width="1.8" stroke-linecap="round" fill="none" opacity="1"/>
<path d="M182.0,285.4h0 M157.6,302.4h0 M257.6,263.2h0 M93.9,267.7h0 M189.5,275.8h0 M65.6,277.8h0 M166.3,281.8h0 M258.8,270.4h0 M205.4,283.4h0 M52.4,285.6h0 M264.2,266.0h0 M165.4,282.4h0 M174.3,269.4h0 M255.6,274.6h0 M175.4,269.8h0 M94.5,279.0h0 M140.9,276.0h0 M212.0,267.7h0 M133.6,271.3h0 M82.9,278.2h0 M132.0,271.8h0 M68.4,279.3h0 M67.7,283.3h0 M72.5,273.0h0 M158.7,291.6h0 M116.9,271.4h0 M85.4,282.4h0 M209.7,271.2h0 M181.4,272.9h0 M227.7,278.2h0 M81.2,288.9h0 M183.3,270.9h0 M104.0,271.1h0 M155.5,300.2h0 M144.6,289.9h0 M175.1,285.5h0 M172.2,273.3h0 M249.6,271.6h0 M184.3,273.6h0 M123.6,277.3h0 M222.0,273.7h0 M81.3,278.7h0 M217.8,277.5h0 M173.7,282.6h0 M103.3,274.4h0 M212.7,278.0h0 M70.8,270.8h0 M53.4,272.0h0 M105.9,280.1h0 M157.7,293.2h0 M185.7,282.1h0 M115.3,273.5h0 M174.1,272.2h0 M263.4,269.0h0 M267.4,287.5h0 M205.7,270.5h0 M112.6,269.4h0 M151.4,282.5h0 M225.0,287.6h0 M242.7,279.4h0 M256.9,276.3h0 M131.6,278.8h0 M120.6,268.8h0 M120.1,279.5h0 M220.0,269.3h0 M258.2,272.8h0 M170.7,287.1h0 M144.0,285.6h0 M193.6,278.4h0 M139.2,277.4h0 M172.2,273.4h0 M87.2,276.8h0 M67.5,271.0h0 M135.6,285.4h0 M105.1,292.1h0 M79.2,277.6h0 M259.9,273.4h0 M200.2,277.8h0 M131.8,281.9h0 M265.9,273.5h0 M69.2,265.5h0 M123.0,276.5h0 M241.9,279.7h0 M260.6,280.3h0 M221.7,265.3h0 M86.8,276.0h0 M171.4,275.8h0 M61.3,269.3h0 M59.6,270.1h0 M237.3,280.7h0 M46.0,270.7h0 M67.0,271.3h0 M69.0,273.2h0 M203.6,270.4h0 M185.1,279.2h0 M93.4,276.2h0 M136.6,280.0h0 M257.0,271.8h0 M92.3,279.3h0 M60.5,273.7h0 M189.2,281.8h0 M69.5,276.5h0 M169.1,282.3h0 M102.1,276.4h0 M52.7,275.1h0 M191.8,276.9h0 M212.6,277.0h0 M115.3,286.9h0 M80.6,269.9h0 M262.5,279.1h0 M99.9,277.1h0 M100.2,280.2h0 M126.8,270.8h0 M98.8,280.6h0 M100.1,273.1h0 M250.9,269.5h0 M63.7,267.0h0 M231.0,269.5h0 M164.3,282.1h0 M53.3,282.2h0 M79.0,268.9h0 M191.2,269.6h0 M170.0,275.3h0 M99.3,271.5h0 M110.2,275.4h0 M251.6,278.5h0 M209.3,270.0h0 M192.6,269.1h0 M250.9,281.3h0 M97.0,270.9h0 M118.7,274.5h0 M231.8,271.0h0 M143.3,278.4h0 M144.7,274.9h0 M225.3,270.3h0 M267.6,271.0h0 M242.8,283.1h0 M216.9,271.4h0 M144.7,280.5h0 M202.4,281.7h0 M95.6,272.0h0 M101.9,283.0h0 M90.9,271.0h0 M197.0,266.8h0 M256.2,278.4h0 M213.4,270.8h0 M104.7,273.3h0 M192.2,272.4h0 M123.4,283.0h0 M228.6,272.5h0 M153.3,294.2h0 M101.0,271.8h0 M110.1,275.7h0 M64.4,269.9h0 M125.8,274.5h0 M120.9,272.2h0 M147.3,276.0h0 M191.6,274.8h0 M251.8,270.4h0 M227.2,274.5h0 M173.0,275.4h0 M125.8,278.7h0 M83.4,271.6h0 M176.9,270.6h0 M59.7,276.1h0 M57.4,271.5h0 M188.2,273.6h0 M82.0,281.5h0 M234.1,273.8h0 M194.3,268.8h0 M162.0,291.9h0 M253.6,285.0h0 M74.8,274.6h0 M114.4,279.1h0 M158.3,290.1h0 M260.0,275.8h0 M63.0,275.7h0 M179.3,279.9h0 M249.8,274.3h0 M77.7,278.6h0 M202.0,280.4h0 M199.0,276.0h0 M125.6,280.1h0 M164.5,278.0h0 M253.4,281.7h0 M149.5,286.6h0 M146.9,286.3h0 M170.9,286.3h0 M52.6,266.9h0 M225.4,286.6h0 M56.9,268.0h0 M263.0,283.0h0 M261.2,275.1h0 M227.4,263.8h0 M244.5,286.7h0 M182.3,283.4h0 M113.4,268.8h0 M179.7,275.6h0 M196.4,278.5h0 M76.9,275.8h0 M217.7,280.7h0 M113.0,275.0h0 M159.4,288.5h0 M104.7,277.6h0 M108.2,274.9h0 M240.3,269.3h0 M216.7,265.2h0 M59.4,278.7h0 M216.9,274.0h0 M251.1,278.6h0 M201.9,279.0h0 M199.3,277.7h0 M104.2,278.9h0 M200.8,284.7h0 M129.7,286.5h0 M250.6,279.4h0 M202.1,274.9h0 M117.2,269.3h0 M241.9,278.4h0 M217.5,276.5h0 M90.2,272.2h0 M93.2,271.7h0 M48.3,276.2h0 M216.6,275.9h0 M64.6,265.8h0 M106.7,277.4h0 M209.1,278.2h0 M113.4,284.1h0 M109.0,273.4h0 M60.2,277.0h0 M56.7,265.6h0 M172.6,280.0h0 M76.3,271.4h0 M259.7,270.7h0 M51.2,267.0h0 M115.7,282.5h0 M86.3,267.4h0 M245.3,275.5h0 M212.3,276.2h0 M70.2,277.2h0 M57.8,277.7h0 M63.9,277.4h0 M209.9,287.8h0 M211.6,273.0h0 M186.1,275.6h0 M154.2,302.5h0 M148.4,284.8h0 M177.8,264.8h0 M69.6,273.6h0 M222.1,277.6h0 M218.3,266.7h0 M196.8,279.8h0 M97.8,276.4h0 M93.2,278.5h0 M263.3,276.8h0 M256.3,271.8h0 M211.7,272.6h0 M220.0,279.4h0 M147.3,283.8h0 M240.4,275.2h0 M198.9,277.8h0 M142.8,279.5h0 M196.9,279.4h0 M63.2,279.4h0 M133.2,276.2h0 M233.0,281.0h0 M152.1,289.4h0 M169.1,281.2h0 M170.1,284.3h0 M255.1,278.8h0 M90.1,278.1h0 M196.9,276.5h0 M145.3,280.6h0 M97.8,276.7h0 M56.2,280.1h0 M181.1,268.9h0 M86.3,270.9h0 M174.9,276.9h0 M141.0,273.5h0 M135.6,275.2h0 M242.8,277.0h0 M65.5,275.2h0 M170.2,265.7h0 M137.6,272.2h0 M79.1,270.2h0 M133.3,278.5h0 M238.1,272.5h0 M89.5,264.0h0 M196.5,273.5h0 M105.1,270.1h0 M160.9,285.5h0 M167.9,277.8h0 M61.4,267.5h0 M225.1,274.5h0 M129.6,273.6h0 M92.1,278.9h0 M91.6,262.0h0 M264.4,274.1h0 M255.1,275.1h0 M149.8,279.5h0 M105.6,278.2h0 M202.9,275.7h0 M57.2,279.7h0 M236.4,275.5h0 M46.7,277.7h0 M56.4,272.8h0 M119.7,276.4h0 M146.9,285.8h0 M46.6,277.2h0 M108.9,276.3h0 M264.1,278.3h0 M217.5,270.8h0 M58.5,272.2h0 M240.3,274.9h0 M149.0,291.6h0 M265.4,273.0h0 M116.8,282.3h0 M114.3,274.7h0 M196.4,275.5h0 M153.9,299.9h0 M106.9,279.9h0 M162.1,292.9h0 M187.1,265.4h0 M114.9,277.1h0 M228.7,276.7h0 M211.9,270.7h0 M212.9,273.5h0 M192.2,270.3h0 M96.6,282.0h0 M202.4,281.3h0 M84.3,258.5h0 M77.0,275.9h0 M157.4,305.2h0 M83.8,274.8h0 M73.8,270.6h0 M177.1,283.1h0 M262.3,274.2h0 M57.8,275.8h0 M144.2,276.9h0 M65.5,274.8h0 M165.2,286.8h0 M173.2,282.5h0 M154.5,311.2h0 M54.1,270.6h0 M201.2,283.2h0 M158.4,302.1h0 M172.9,269.7h0 M194.0,277.9h0 M246.9,272.5h0 M142.1,280.1h0 M248.4,272.1h0 M84.5,275.5h0 M146.3,284.7h0 M84.8,268.7h0 M128.2,277.4h0 M246.3,282.5h0 M262.2,277.3h0 M150.5,285.2h0 M106.9,281.4h0 M117.2,271.7h0 M245.9,271.7h0 M142.9,268.6h0 M89.6,278.9h0 M231.1,272.3h0 M158.8,306.8h0 M140.4,280.4h0 M246.3,275.1h0 M211.3,273.6h0 M48.6,275.9h0 M260.3,276.1h0 M146.5,285.5h0 M85.5,277.9h0 M247.8,274.1h0 M138.7,274.8h0 M197.6,272.4h0 M212.3,270.6h0 M88.7,269.6h0 M264.1,284.9h0 M170.6,282.0h0 M58.1,276.5h0 M164.8,287.9h0 M49.5,270.3h0 M263.1,271.8h0 M193.5,276.3h0 M129.8,275.5h0 M223.1,269.2h0 M222.0,277.4h0 M201.2,277.3h0 M97.7,271.0h0 M66.2,273.3h0 M235.8,268.4h0 M242.9,273.8h0 M122.3,272.0h0 M131.4,279.1h0 M135.1,281.6h0 M107.0,275.7h0 M254.0,289.2h0 M163.6,284.3h0 M203.2,270.7h0 M180.0,276.1h0 M65.4,276.8h0 M61.5,270.1h0 M78.3,275.9h0 M155.9,299.4h0 M185.0,264.9h0 M266.8,272.0h0 M245.7,270.9h0 M209.7,273.1h0 M130.7,274.9h0 M122.1,274.4h0 M200.4,275.4h0 M122.3,270.3h0 M215.6,283.9h0 M207.4,277.0h0 M72.1,272.3h0 M224.2,280.0h0 M66.2,276.2h0 M116.1,279.3h0 M262.2,273.4h0 M190.2,271.4h0 M235.8,268.3h0 M251.5,273.1h0 M104.3,279.3h0 M222.3,274.4h0 M128.2,273.1h0 M59.9,268.5h0 M69.2,286.6h0 M73.5,273.8h0 M185.8,285.3h0 M188.1,272.3h0 M233.8,273.4h0 M111.1,273.1h0 M215.0,271.2h0 M104.8,273.7h0 M115.2,279.0h0 M191.2,274.0h0 M132.7,270.3h0 M267.3,276.2h0 M115.8,275.6h0 M98.2,281.8h0 M240.9,269.8h0 M239.5,278.2h0 M81.7,279.4h0 M120.5,278.1h0 M158.9,302.6h0 M60.2,276.9h0 M127.9,269.5h0 M216.7,271.6h0 M216.3,268.4h0 M78.5,268.1h0 M112.9,280.3h0 M105.1,273.2h0 M197.6,268.1h0 M74.8,264.0h0 M264.6,282.9h0 M71.2,282.9h0 M163.0,285.1h0 M201.8,277.4h0 M256.2,280.7h0 M182.0,274.3h0 M235.6,279.7h0 M163.5,298.2h0 M94.6,275.8h0 M139.0,277.1h0 M180.4,273.2h0 M163.5,281.8h0 M219.4,274.7h0 M165.4,285.0h0 M130.7,279.6h0 M160.0,303.0h0 M161.0,294.1h0 M47.7,270.6h0 M118.4,272.4h0 M172.8,267.8h0 M203.8,276.5h0 M140.5,287.4h0 M211.3,271.5h0 M157.3,298.9h0 M127.6,282.0h0 M99.3,283.9h0 M222.8,274.9h0 M250.4,272.1h0 M207.6,281.4h0 M94.5,277.4h0 M202.4,279.7h0 M157.7,308.5h0 M251.0,282.4h0 M46.8,275.0h0 M217.3,277.6h0 M149.1,289.1h0 M235.7,289.0h0 M180.1,267.6h0 M47.1,280.5h0 M199.2,276.4h0 M164.0,291.6h0 M98.6,273.8h0 M72.6,283.4h0 M134.0,276.2h0 M170.1,280.6h0 M151.8,286.2h0 M49.2,281.3h0 M78.3,279.0h0 M196.8,277.0h0 M166.8,271.6h0 M210.6,283.2h0 M137.6,275.9h0 M102.6,279.1h0 M222.9,274.1h0 M94.0,272.4h0 M58.9,275.0h0 M127.4,274.7h0 M145.8,280.2h0 M91.9,278.7h0 M257.9,276.8h0 M96.9,284.2h0 M72.6,277.5h0 M192.5,279.8h0 M77.3,277.0h0 M107.7,272.0h0 M137.4,275.4h0 M106.4,273.4h0 M190.8,270.3h0 M76.6,287.9h0 M188.6,273.8h0 M71.2,275.9h0 M174.4,278.3h0 M263.0,282.4h0 M220.4,273.0h0 M255.8,269.9h0 M166.8,277.0h0 M80.7,276.2h0 M127.8,272.9h0 M218.0,271.1h0 M74.8,266.5h0 M193.1,269.6h0 M117.1,275.1h0 M249.4,275.3h0 M123.4,275.1h0 M117.1,274.7h0 M106.0,278.3h0 M165.5,279.9h0 M257.2,279.3h0 M165.6,287.8h0 M210.3,274.0h0 M161.2,294.4h0 M63.9,277.0h0 M175.9,287.9h0 M177.6,273.0h0 M178.0,277.0h0 M111.8,276.5h0 M104.8,273.4h0 M118.6,274.8h0 M52.3,279.3h0 M81.3,265.6h0 M109.3,278.1h0 M159.3,291.7h0 M248.1,266.5h0 M201.3,279.0h0 M160.2,293.7h0 M204.8,280.0h0 M144.3,275.1h0 M56.0,277.5h0 M198.0,281.4h0 M202.2,269.1h0 M191.1,271.3h0 M234.9,280.3h0 M219.2,269.8h0 M229.7,274.8h0 M55.7,262.0h0 M267.7,267.1h0 M176.2,280.1h0 M177.2,278.4h0 M181.8,280.9h0 M105.5,275.1h0 M112.8,275.6h0 M240.4,272.0h0 M178.9,276.3h0 M259.0,283.3h0 M91.8,279.9h0 M175.6,270.3h0 M178.8,270.9h0 M53.7,276.6h0 M184.6,276.9h0 M130.9,277.2h0 M141.0,278.5h0 M86.7,284.3h0 M177.6,272.5h0 M195.1,279.2h0 M243.7,275.0h0 M232.6,288.7h0 M263.3,274.6h0 M262.4,269.0h0 M201.2,287.2h0 M107.9,268.1h0 M165.5,281.4h0 M64.0,279.5h0 M171.3,287.1h0 M113.4,269.9h0 M164.7,283.5h0 M212.2,272.8h0 M58.9,277.2h0 M240.2,279.9h0 M53.9,271.4h0 M154.4,303.2h0 M94.0,271.2h0 M54.1,284.3h0 M152.1,296.4h0 M103.7,283.2h0 M63.2,269.1h0 M228.7,284.7h0 M100.0,281.6h0 M254.0,272.4h0 M180.8,275.4h0 M124.4,264.9h0 M58.9,266.4h0 M235.6,272.7h0 M69.6,272.3h0 M218.0,285.1h0 M162.9,292.2h0 M146.7,284.4h0 M63.4,276.7h0 M138.9,284.8h0 M49.1,280.5h0 M215.1,280.1h0 M202.7,270.4h0 M75.7,273.6h0 M158.7,300.5h0 M85.0,277.2h0 M203.7,274.3h0 M87.5,279.4h0 M83.9,277.1h0 M108.7,284.6h0 M261.4,272.4h0 M227.4,270.9h0 M135.1,275.1h0 M222.1,273.4h0 M125.8,274.2h0 M87.2,265.4h0 M244.9,274.8h0 M53.6,282.5h0 M221.8,281.1h0 M258.8,272.2h0 M64.2,270.4h0 M236.5,271.9h0 M218.9,271.5h0 M54.9,274.9h0 M144.2,288.0h0 M103.3,279.4h0 M130.9,285.6h0 M130.3,278.3h0 M133.2,283.6h0 M47.6,275.3h0 M105.8,276.7h0 M109.9,285.8h0 M189.8,272.3h0 M200.2,272.0h0 M212.3,282.9h0 M187.1,275.4h0 M244.2,272.2h0 M169.1,281.9h0 M115.1,271.5h0 M54.4,274.9h0 M207.0,270.4h0 M170.5,278.6h0 M81.8,276.7h0 M159.1,294.7h0 M255.4,271.8h0 M180.1,275.4h0 M114.2,278.2h0 M224.8,279.9h0 M133.2,278.6h0 M48.8,278.8h0 M63.2,274.8h0 M259.2,275.0h0 M66.3,276.3h0 M219.6,275.9h0 M52.3,275.0h0 M139.7,270.1h0 M108.1,269.7h0 M121.9,279.0h0 M65.7,273.7h0 M134.8,278.6h0 M214.2,276.4h0 M162.1,290.7h0 M74.8,279.1h0 M224.5,282.9h0 M239.1,288.5h0 M146.9,281.9h0 M125.3,270.1h0 M49.4,280.5h0 M61.1,273.3h0 M128.9,278.3h0 M70.6,274.5h0 M260.9,280.0h0 M188.6,277.3h0 M115.0,276.5h0 M175.5,289.8h0 M82.8,274.8h0 M249.4,276.6h0 M156.8,319.8h0 M201.0,272.6h0 M85.9,276.1h0 M150.8,287.8h0 M204.1,274.1h0 M131.6,278.7h0 M59.9,281.4h0 M149.7,289.2h0 M228.6,278.1h0 M148.2,273.1h0 M263.2,266.4h0 M169.8,282.5h0 M241.7,278.0h0 M52.7,274.3h0 M185.8,273.4h0 M158.9,301.8h0 M125.0,281.3h0 M246.0,266.0h0 M65.9,270.5h0 M153.5,303.7h0 M113.6,285.1h0 M258.9,280.2h0 M219.2,274.8h0 M90.1,273.1h0 M73.9,277.7h0 M50.7,284.3h0 M85.4,274.8h0 M252.0,272.8h0 M239.5,276.0h0 M223.3,278.5h0 M134.4,274.0h0 M152.6,293.3h0 M173.3,284.1h0 M225.6,275.5h0 M46.4,282.6h0 M85.8,271.0h0 M174.7,275.4h0 M76.9,281.1h0 M254.0,274.9h0 M55.4,269.5h0 M261.9,287.1h0 M93.2,276.7h0 M88.5,267.4h0 M139.8,286.3h0 M187.2,277.1h0 M263.2,283.3h0 M151.3,290.4h0 M245.1,288.4h0 M243.4,284.4h0 M264.3,278.8h0 M125.5,275.5h0 M150.9,287.3h0 M50.3,273.8h0 M130.8,270.6h0 M124.1,272.5h0 M73.1,272.1h0 M230.5,281.1h0 M107.5,276.8h0 M74.5,259.4h0 M71.1,264.2h0 M50.9,271.6h0 M213.3,272.1h0 M163.7,281.4h0 M161.8,292.2h0 M137.4,267.4h0 M259.7,277.9h0 M129.5,276.9h0 M151.0,278.0h0 M198.8,286.9h0 M252.0,274.1h0 M236.3,285.0h0 M241.4,279.4h0 M86.2,276.4h0 M255.4,277.8h0 M228.6,275.1h0 M118.8,280.1h0 M224.5,276.5h0 M257.3,282.2h0 M210.7,278.0h0 M209.7,283.2h0 M231.8,272.5h0 M240.8,282.7h0 M219.1,272.3h0 M62.7,278.1h0 M91.8,277.6h0 M72.3,269.8h0 M149.0,285.3h0 M60.0,285.9h0 M167.8,278.9h0 M250.9,291.2h0 M263.6,274.6h0 M53.8,278.1h0 M197.2,283.4h0 M77.2,275.5h0 M237.1,277.6h0 M52.4,265.4h0 M68.4,278.3h0 M117.4,265.8h0 M46.6,268.7h0 M192.6,279.3h0 M91.2,280.3h0 M205.5,269.0h0 M256.5,276.7h0 M150.0,286.6h0 M150.0,288.7h0 M267.0,282.3h0 M115.2,278.0h0 M242.4,281.0h0 M204.0,284.1h0 M47.5,277.5h0 M111.6,266.6h0 M205.7,267.4h0 M55.5,276.3h0 M236.1,275.2h0 M248.2,273.2h0 M214.3,268.8h0 M225.7,274.3h0 M178.3,279.6h0 M225.2,278.0h0 M149.4,280.4h0 M136.2,263.5h0 M201.7,279.3h0 M148.9,296.5h0 M114.5,271.7h0 M104.3,276.4h0 M142.6,278.9h0 M130.4,269.9h0 M213.1,275.6h0 M219.7,283.0h0 M222.9,286.4h0 M233.2,276.2h0 M126.0,282.4h0 M127.6,274.8h0 M231.7,282.7h0 M85.5,277.8h0 M201.5,283.8h0 M162.1,291.5h0 M193.6,278.4h0 M200.4,272.8h0 M194.1,268.9h0 M97.7,276.9h0 M50.7,280.5h0 M257.2,265.6h0 M245.0,274.0h0 M157.7,299.8h0 M192.4,272.8h0 M65.7,268.2h0 M147.4,278.2h0 M176.2,273.9h0 M201.0,271.9h0 M94.2,280.5h0 M66.0,279.2h0 M259.1,276.5h0 M234.1,275.4h0 M85.2,275.8h0 M228.3,274.3h0 M226.0,275.8h0 M85.8,278.2h0 M224.3,284.6h0 M130.4,272.0h0 M119.7,272.9h0 M81.1,280.6h0 M176.9,274.6h0 M181.7,274.5h0 M159.1,297.1h0 M67.7,285.7h0 M222.3,282.3h0 M115.9,279.2h0 M104.3,267.4h0 M188.0,280.7h0 M86.5,277.8h0 M247.8,281.8h0 M189.5,278.7h0 M220.9,274.1h0 M121.2,287.1h0 M140.7,293.7h0 M101.3,272.4h0 M101.3,275.8h0 M137.7,280.8h0 M220.4,270.8h0 M157.3,299.5h0 M230.7,287.1h0 M70.3,276.8h0 M109.7,270.1h0 M53.6,279.5h0 M248.5,277.6h0 M59.5,270.9h0 M165.9,284.8h0 M195.1,282.4h0 M90.8,279.6h0 M263.3,283.0h0 M263.4,273.0h0 M98.4,285.1h0 M76.5,270.6h0 M189.9,284.9h0 M159.9,295.0h0 M179.8,284.6h0 M182.8,278.2h0 M258.0,270.5h0 M216.3,270.0h0 M114.9,269.0h0" stroke="#875038" stroke-width="1.5" stroke-linecap="round" fill="none" opacity="0.9"/>
<path d="M44.76,231.40 L47.89,231.40 L51.03,231.40 L54.16,231.40 L57.29,231.40 L60.43,231.40 L63.56,231.40 L66.69,231.40 L69.83,231.40 L72.96,231.40 L76.09,231.40 L79.23,231.40 L82.36,231.40 L85.49,231.40 L88.63,231.40 L91.76,231.40 L94.90,231.40 L98.03,231.40 L101.16,231.41 L104.30,231.41 L107.43,231.41 L110.56,231.42 L113.70,231.44 L116.83,231.46 L119.96,231.50 L123.10,231.57 L126.23,231.68 L129.36,231.85 L132.50,232.13 L135.63,232.59 L135.63,232.59 L135.98,232.66 L136.33,232.73 L136.68,232.80 L137.03,232.88 L137.38,232.96 L137.73,233.05 L138.08,233.14 L138.43,233.24 L138.78,233.34 L139.12,233.45 L139.47,233.57 L139.82,233.69 L140.17,233.82 L140.52,233.95 L140.87,234.09 L141.22,234.24 L141.57,234.40 L141.92,234.57 L142.27,234.75 L142.62,234.93 L142.97,235.13 L143.32,235.34 L143.67,235.56 L144.02,235.79 L144.37,236.04 L144.72,236.30 L145.07,236.57 L145.42,236.86 L145.77,237.16 L146.12,237.49 L146.46,237.83 L146.81,238.19 L147.16,238.56 L147.51,238.96 L147.86,239.39 L148.21,239.83 L148.56,240.30 L148.91,240.80 L149.26,241.33 L149.61,241.88 L149.96,242.47 L150.31,243.08 L150.66,243.74 L151.01,244.43 L151.36,245.15 L151.71,245.92 L152.06,246.73 L152.41,247.59 L152.76,248.49 L153.10,249.45 L153.45,250.46 L153.80,251.52 L154.15,252.65 L154.50,253.83 L154.85,255.08 L155.20,256.41 L155.55,257.80 L155.90,259.28 L156.25,260.84 L156.60,262.48 L156.95,260.84 L157.30,259.28 L157.65,257.80 L158.00,256.41 L158.35,255.08 L158.70,253.83 L159.05,252.65 L159.40,251.52 L159.75,250.46 L160.09,249.45 L160.44,248.49 L160.79,247.59 L161.14,246.73 L161.49,245.92 L161.84,245.15 L162.19,244.43 L162.54,243.74 L162.89,243.08 L163.24,242.47 L163.59,241.88 L163.94,241.33 L164.29,240.80 L164.64,240.30 L164.99,239.83 L165.34,239.39 L165.69,238.96 L166.04,238.56 L166.39,238.19 L166.74,237.83 L167.08,237.49 L167.43,237.16 L167.78,236.86 L168.13,236.57 L168.48,236.30 L168.83,236.04 L169.18,235.79 L169.53,235.56 L169.88,235.34 L170.23,235.13 L170.58,234.93 L170.93,234.75 L171.28,234.57 L171.63,234.40 L171.98,234.24 L172.33,234.09 L172.68,233.95 L173.03,233.82 L173.38,233.69 L173.73,233.57 L174.07,233.45 L174.42,233.34 L174.77,233.24 L175.12,233.14 L175.47,233.05 L175.82,232.96 L176.17,232.88 L176.52,232.80 L176.87,232.73 L177.22,232.66 L177.57,232.59 L177.57,232.59 L180.70,232.13 L183.84,231.85 L186.97,231.68 L190.10,231.57 L193.24,231.50 L196.37,231.46 L199.50,231.44 L202.64,231.42 L205.77,231.41 L208.90,231.41 L212.04,231.41 L215.17,231.40 L218.30,231.40 L221.44,231.40 L224.57,231.40 L227.71,231.40 L230.84,231.40 L233.97,231.40 L237.11,231.40 L240.24,231.40 L243.37,231.40 L246.51,231.40 L249.64,231.40 L252.77,231.40 L255.91,231.40 L259.04,231.40 L262.17,231.40 L265.31,231.40 L268.44,231.40" fill="none" stroke="#22228a" stroke-width="0.9" stroke-linejoin="round" />
<path d="M44.76,275.80 L47.89,275.80 L51.03,275.80 L54.16,275.80 L57.29,275.80 L60.43,275.80 L63.56,275.80 L66.69,275.80 L69.83,275.80 L72.96,275.80 L76.09,275.80 L79.23,275.80 L82.36,275.80 L85.49,275.80 L88.63,275.80 L91.76,275.80 L94.90,275.80 L98.03,275.80 L101.16,275.81 L104.30,275.81 L107.43,275.82 L110.56,275.82 L113.70,275.84 L116.83,275.87 L119.96,275.91 L123.10,275.97 L126.23,276.08 L129.36,276.26 L132.50,276.55 L135.63,277.03 L135.63,277.03 L135.98,277.09 L136.33,277.17 L136.68,277.24 L137.03,277.32 L137.38,277.41 L137.73,277.50 L138.08,277.59 L138.43,277.69 L138.78,277.80 L139.12,277.91 L139.47,278.03 L139.82,278.15 L140.17,278.29 L140.52,278.42 L140.87,278.57 L141.22,278.73 L141.57,278.89 L141.92,279.06 L142.27,279.24 L142.62,279.44 L142.97,279.64 L143.32,279.85 L143.67,280.08 L144.02,280.32 L144.37,280.57 L144.72,280.84 L145.07,281.12 L145.42,281.42 L145.77,281.73 L146.12,282.06 L146.46,282.41 L146.81,282.78 L147.16,283.17 L147.51,283.58 L147.86,284.02 L148.21,284.47 L148.56,284.96 L148.91,285.47 L149.26,286.01 L149.61,286.58 L149.96,287.18 L150.31,287.82 L150.66,288.49 L151.01,289.20 L151.36,289.95 L151.71,290.74 L152.06,291.57 L152.41,292.45 L152.76,293.38 L153.10,294.36 L153.45,295.40 L153.80,296.50 L154.15,297.65 L154.50,298.87 L154.85,300.16 L155.20,301.52 L155.55,302.96 L155.90,304.48 L156.25,306.08 L156.60,307.77 L156.95,306.08 L157.30,304.48 L157.65,302.96 L158.00,301.52 L158.35,300.16 L158.70,298.87 L159.05,297.65 L159.40,296.50 L159.75,295.40 L160.09,294.36 L160.44,293.38 L160.79,292.45 L161.14,291.57 L161.49,290.74 L161.84,289.95 L162.19,289.20 L162.54,288.49 L162.89,287.82 L163.24,287.18 L163.59,286.58 L163.94,286.01 L164.29,285.47 L164.64,284.96 L164.99,284.47 L165.34,284.02 L165.69,283.58 L166.04,283.17 L166.39,282.78 L166.74,282.41 L167.08,282.06 L167.43,281.73 L167.78,281.42 L168.13,281.12 L168.48,280.84 L168.83,280.57 L169.18,280.32 L169.53,280.08 L169.88,279.85 L170.23,279.64 L170.58,279.44 L170.93,279.24 L171.28,279.06 L171.63,278.89 L171.98,278.73 L172.33,278.57 L172.68,278.42 L173.03,278.29 L173.38,278.15 L173.73,278.03 L174.07,277.91 L174.42,277.80 L174.77,277.69 L175.12,277.59 L175.47,277.50 L175.82,277.41 L176.17,277.32 L176.52,277.24 L176.87,277.17 L177.22,277.09 L177.57,277.03 L177.57,277.03 L180.70,276.55 L183.84,276.26 L186.97,276.08 L190.10,275.97 L193.24,275.91 L196.37,275.87 L199.50,275.84 L202.64,275.82 L205.77,275.82 L208.90,275.81 L212.04,275.81 L215.17,275.80 L218.30,275.80 L221.44,275.80 L224.57,275.80 L227.71,275.80 L230.84,275.80 L233.97,275.80 L237.11,275.80 L240.24,275.80 L243.37,275.80 L246.51,275.80 L249.64,275.80 L252.77,275.80 L255.91,275.80 L259.04,275.80 L262.17,275.80 L265.31,275.80 L268.44,275.80" fill="none" stroke="#cc2020" stroke-width="1.0" stroke-linejoin="round" />
<rect x="176" y="296" width="94.80000000000001" height="24" fill="#fff"/>
<circle cx="193.8" cy="303.8" r="1.8" fill="none" stroke="#a06040" stroke-width="0.9"/>
<circle cx="193.8" cy="313.8" r="1.8" fill="none" stroke="#4040a8" stroke-width="0.9"/>
<text x="203.6" y="307.6" font-size="8.3" text-anchor="start" fill="#505050" stroke="#505050" stroke-width="0.1" textLength="51" lengthAdjust="spacingAndGlyphs" >Few-layer hBN</text>
<text x="203.6" y="316.4" font-size="8.3" text-anchor="start" fill="#505050" stroke="#505050" stroke-width="0.1" textLength="54.4" lengthAdjust="spacingAndGlyphs" >Monolayer hBN</text>
<line x1="42.50" y1="207.00" x2="270.80" y2="207.00" stroke="#888" stroke-width="1.2" />
<line x1="270.80" y1="207.00" x2="270.80" y2="323.00" stroke="#888" stroke-width="1.2" />
<line x1="42.50" y1="207.00" x2="42.50" y2="323.00" stroke="#444" stroke-width="1" />
<line x1="42.50" y1="323.00" x2="270.80" y2="323.00" stroke="#444" stroke-width="1" />
<line x1="38.50" y1="320.20" x2="42.50" y2="320.20" stroke="#444" stroke-width="1" />
<line x1="40.50" y1="315.76" x2="42.50" y2="315.76" stroke="#444" stroke-width="1" />
<line x1="40.50" y1="311.32" x2="42.50" y2="311.32" stroke="#444" stroke-width="1" />
<line x1="40.50" y1="306.88" x2="42.50" y2="306.88" stroke="#444" stroke-width="1" />
<line x1="40.50" y1="302.44" x2="42.50" y2="302.44" stroke="#444" stroke-width="1" />
<line x1="38.50" y1="298.00" x2="42.50" y2="298.00" stroke="#444" stroke-width="1" />
<line x1="40.50" y1="293.56" x2="42.50" y2="293.56" stroke="#444" stroke-width="1" />
<line x1="40.50" y1="289.12" x2="42.50" y2="289.12" stroke="#444" stroke-width="1" />
<line x1="40.50" y1="284.68" x2="42.50" y2="284.68" stroke="#444" stroke-width="1" />
<line x1="40.50" y1="280.24" x2="42.50" y2="280.24" stroke="#444" stroke-width="1" />
<line x1="38.50" y1="275.80" x2="42.50" y2="275.80" stroke="#444" stroke-width="1" />
<line x1="40.50" y1="271.36" x2="42.50" y2="271.36" stroke="#444" stroke-width="1" />
<line x1="40.50" y1="266.92" x2="42.50" y2="266.92" stroke="#444" stroke-width="1" />
<line x1="40.50" y1="262.48" x2="42.50" y2="262.48" stroke="#444" stroke-width="1" />
<line x1="40.50" y1="258.04" x2="42.50" y2="258.04" stroke="#444" stroke-width="1" />
<line x1="38.50" y1="253.60" x2="42.50" y2="253.60" stroke="#444" stroke-width="1" />
<line x1="40.50" y1="249.16" x2="42.50" y2="249.16" stroke="#444" stroke-width="1" />
<line x1="40.50" y1="244.72" x2="42.50" y2="244.72" stroke="#444" stroke-width="1" />
<line x1="40.50" y1="240.28" x2="42.50" y2="240.28" stroke="#444" stroke-width="1" />
<line x1="40.50" y1="235.84" x2="42.50" y2="235.84" stroke="#444" stroke-width="1" />
<line x1="38.50" y1="231.40" x2="42.50" y2="231.40" stroke="#444" stroke-width="1" />
<line x1="40.50" y1="226.96" x2="42.50" y2="226.96" stroke="#444" stroke-width="1" />
<line x1="40.50" y1="222.52" x2="42.50" y2="222.52" stroke="#444" stroke-width="1" />
<line x1="40.50" y1="218.08" x2="42.50" y2="218.08" stroke="#444" stroke-width="1" />
<line x1="40.50" y1="213.64" x2="42.50" y2="213.64" stroke="#444" stroke-width="1" />
<line x1="38.50" y1="209.20" x2="42.50" y2="209.20" stroke="#444" stroke-width="1" />
<text x="34.8" y="323.2" font-size="8.2" text-anchor="end" fill="#484848" stroke="#484848" stroke-width="0.22" >0.0</text>
<text x="34.8" y="301.0" font-size="8.2" text-anchor="end" fill="#484848" stroke="#484848" stroke-width="0.22" >0.5</text>
<text x="34.8" y="278.8" font-size="8.2" text-anchor="end" fill="#484848" stroke="#484848" stroke-width="0.22" >1.0</text>
<text x="34.8" y="256.6" font-size="8.2" text-anchor="end" fill="#484848" stroke="#484848" stroke-width="0.22" >1.5</text>
<text x="34.8" y="234.4" font-size="8.2" text-anchor="end" fill="#484848" stroke="#484848" stroke-width="0.22" >2.0</text>
<text x="34.8" y="212.2" font-size="8.2" text-anchor="end" fill="#484848" stroke="#484848" stroke-width="0.22" >2.5</text>
<line x1="44.76" y1="323.00" x2="44.76" y2="327.00" stroke="#444" stroke-width="1" />
<text x="43.6" y="336.3" font-size="8.4" text-anchor="middle" fill="#484848" stroke="#484848" stroke-width="0.22" textLength="14.6" lengthAdjust="spacingAndGlyphs" >−80</text>
<line x1="72.72" y1="323.00" x2="72.72" y2="327.00" stroke="#444" stroke-width="1" />
<text x="71.5" y="336.3" font-size="8.4" text-anchor="middle" fill="#484848" stroke="#484848" stroke-width="0.22" textLength="14.6" lengthAdjust="spacingAndGlyphs" >−60</text>
<line x1="100.68" y1="323.00" x2="100.68" y2="327.00" stroke="#444" stroke-width="1" />
<text x="99.5" y="336.3" font-size="8.4" text-anchor="middle" fill="#484848" stroke="#484848" stroke-width="0.22" textLength="14.6" lengthAdjust="spacingAndGlyphs" >−40</text>
<line x1="128.64" y1="323.00" x2="128.64" y2="327.00" stroke="#444" stroke-width="1" />
<text x="127.4" y="336.3" font-size="8.4" text-anchor="middle" fill="#484848" stroke="#484848" stroke-width="0.22" textLength="14.6" lengthAdjust="spacingAndGlyphs" >−20</text>
<line x1="156.60" y1="323.00" x2="156.60" y2="327.00" stroke="#444" stroke-width="1" />
<text x="156.6" y="336.3" font-size="8.4" text-anchor="middle" fill="#484848" stroke="#484848" stroke-width="0.22" >0</text>
<line x1="184.56" y1="323.00" x2="184.56" y2="327.00" stroke="#444" stroke-width="1" />
<text x="184.6" y="336.3" font-size="8.4" text-anchor="middle" fill="#484848" stroke="#484848" stroke-width="0.22" textLength="9.6" lengthAdjust="spacingAndGlyphs" >20</text>
<line x1="212.52" y1="323.00" x2="212.52" y2="327.00" stroke="#444" stroke-width="1" />
<text x="212.5" y="336.3" font-size="8.4" text-anchor="middle" fill="#484848" stroke="#484848" stroke-width="0.22" textLength="9.6" lengthAdjust="spacingAndGlyphs" >40</text>
<line x1="240.48" y1="323.00" x2="240.48" y2="327.00" stroke="#444" stroke-width="1" />
<text x="240.5" y="336.3" font-size="8.4" text-anchor="middle" fill="#484848" stroke="#484848" stroke-width="0.22" textLength="9.6" lengthAdjust="spacingAndGlyphs" >60</text>
<line x1="268.44" y1="323.00" x2="268.44" y2="327.00" stroke="#444" stroke-width="1" />
<text x="268.4" y="336.3" font-size="8.4" text-anchor="middle" fill="#484848" stroke="#484848" stroke-width="0.22" textLength="9.6" lengthAdjust="spacingAndGlyphs" >80</text>
<text x="129.6" y="349.5" font-size="8.8" text-anchor="start" fill="#484848" stroke="#484848" stroke-width="0.22" textLength="54" lengthAdjust="spacingAndGlyphs" >Delay time (ns)</text>
<text font-size="8.4" fill="#484848" stroke="#484848" stroke-width="0.22" text-anchor="middle" transform="translate(16.8,259.8) rotate(-90)">g<tspan dy="-3" font-size="5.5">2</tspan><tspan dy="3">(τ)</tspan></text>
<text x="308.6" y="191.6" font-weight="bold" fill="#111" textLength="24.6" lengthAdjust="spacingAndGlyphs"><tspan font-size="20">(</tspan><tspan font-size="19.8">d</tspan><tspan font-size="20">)</tspan></text>
<rect x="320.5" y="288" width="8" height="32" fill="#fbe0e8"/>
<path d="M322.60,320.60 L322.94,317.77 L323.28,315.09 L323.62,312.55 L323.96,310.13 L324.29,307.84 L324.63,305.65 L324.97,303.56 L325.31,301.57 L325.65,299.66 L325.99,297.84 L326.33,296.10 L326.67,294.43 L327.01,292.82 L327.35,291.29 L327.68,289.81 L328.02,288.39 L328.36,287.02 L328.70,285.70 L329.04,284.43 L329.38,283.21 L329.72,282.02 L330.06,280.88 L330.40,279.78 L330.74,278.72 L331.07,277.69 L331.41,276.69 L331.75,275.72 L332.09,274.79 L332.43,273.88 L332.77,273.00 L333.11,272.15 L333.45,271.32 L333.79,270.52 L334.13,269.73 L334.46,268.98 L334.80,268.24 L335.14,267.52 L335.48,266.82 L335.82,266.14 L336.16,265.48 L336.50,264.84 L336.84,264.21 L337.18,263.59 L337.52,263.00 L337.85,262.42 L338.19,261.85 L338.53,261.29 L338.87,260.75 L339.21,260.22 L339.55,259.71 L339.89,259.20 L340.23,258.71 L340.57,258.23 L340.91,257.76 L341.24,257.30 L341.58,256.85 L341.92,256.40 L342.26,255.97 L342.60,255.55 L342.60,255.55 L344.89,252.91 L347.18,250.60 L349.47,248.56 L351.76,246.75 L354.06,245.12 L356.35,243.66 L358.64,242.34 L360.93,241.14 L363.22,240.04 L365.51,239.03 L367.80,238.11 L370.09,237.25 L372.38,236.46 L374.68,235.72 L376.97,235.04 L379.26,234.40 L381.55,233.80 L383.84,233.24 L386.13,232.71 L388.42,232.21 L390.71,231.75 L393.01,231.30 L395.30,230.88 L397.59,230.49 L399.88,230.11 L402.17,229.76 L404.46,229.42 L406.75,229.09 L409.04,228.78 L411.33,228.49 L413.63,228.21 L415.92,227.94 L418.21,227.68 L420.50,227.43 L422.79,227.20 L425.08,226.97 L427.37,226.75 L429.66,226.54 L431.95,226.34 L434.25,226.14 L436.54,225.95 L438.83,225.77 L441.12,225.60 L443.41,225.43 L445.70,225.27 L447.99,225.11 L450.28,224.96 L452.57,224.81 L454.87,224.67 L457.16,224.53 L459.45,224.39 L461.74,224.26 L464.03,224.14 L466.32,224.02 L468.61,223.90 L470.90,223.78 L473.19,223.67 L475.49,223.56 L477.78,223.45 L480.07,223.35 L482.36,223.25 L484.65,223.15 L486.94,223.06 L489.23,222.96 L491.52,222.87 L493.82,222.79 L496.11,222.70 L498.40,222.62 L500.69,222.53 L502.98,222.45 L505.27,222.37 L507.56,222.30 L509.85,222.22 L512.14,222.15 L514.44,222.08 L516.73,222.01 L519.02,221.94 L521.31,221.88 L523.60,221.81" fill="none" stroke="#c87a68" stroke-width="1.1" stroke-linejoin="round" />
<line x1="322.60" y1="320.60" x2="522.60" y2="320.60" stroke="#555" stroke-width="1" />
<path d="M323.60,312.79 L325.90,316.79 L321.30,316.79 Z" fill="none" stroke="#c0604a" stroke-width="0.9"/>
<path d="M324.20,308.11 L326.50,312.11 L321.90,312.11 Z" fill="none" stroke="#c0604a" stroke-width="0.9"/>
<path d="M324.60,300.98 L326.90,304.98 L322.30,304.98 Z" fill="none" stroke="#c0604a" stroke-width="0.9"/>
<path d="M327.00,290.40 L329.30,294.40 L324.70,294.40 Z" fill="none" stroke="#c0604a" stroke-width="0.9"/>
<path d="M333.60,268.26 L335.90,272.26 L331.30,272.26 Z" fill="none" stroke="#c0604a" stroke-width="0.9"/>
<path d="M342.60,257.44 L344.90,261.44 L340.30,261.44 Z" fill="none" stroke="#c0604a" stroke-width="0.9"/>
<path d="M362.60,240.96 L364.90,244.96 L360.30,244.96 Z" fill="none" stroke="#c0604a" stroke-width="0.9"/>
<path d="M382.60,233.58 L384.90,237.58 L380.30,237.58 Z" fill="none" stroke="#c0604a" stroke-width="0.9"/>
<path d="M422.60,218.57 L424.90,222.57 L420.30,222.57 Z" fill="none" stroke="#c0604a" stroke-width="0.9"/>
<path d="M522.60,217.09 L524.90,221.09 L520.30,221.09 Z" fill="none" stroke="#c0604a" stroke-width="0.9"/>
<rect x="320.90" y="318.90" width="3.4" height="3.4" fill="none" stroke="#333" stroke-width="0.9"/>
<rect x="321.50" y="318.90" width="3.4" height="3.4" fill="none" stroke="#333" stroke-width="0.9"/>
<rect x="322.10" y="318.90" width="3.4" height="3.4" fill="none" stroke="#333" stroke-width="0.9"/>
<rect x="322.90" y="318.90" width="3.4" height="3.4" fill="none" stroke="#333" stroke-width="0.9"/>
<rect x="323.90" y="318.90" width="3.4" height="3.4" fill="none" stroke="#333" stroke-width="0.9"/>
<rect x="325.30" y="318.90" width="3.4" height="3.4" fill="none" stroke="#333" stroke-width="0.9"/>
<rect x="330.90" y="318.90" width="3.4" height="3.4" fill="none" stroke="#333" stroke-width="0.9"/>
<rect x="340.90" y="318.90" width="3.4" height="3.4" fill="none" stroke="#333" stroke-width="0.9"/>
<rect x="360.90" y="318.90" width="3.4" height="3.4" fill="none" stroke="#333" stroke-width="0.9"/>
<rect x="380.90" y="318.90" width="3.4" height="3.4" fill="none" stroke="#333" stroke-width="0.9"/>
<rect x="420.90" y="318.90" width="3.4" height="3.4" fill="none" stroke="#333" stroke-width="0.9"/>
<rect x="520.90" y="318.90" width="3.4" height="3.4" fill="none" stroke="#333" stroke-width="0.9"/>
<line x1="319.50" y1="207.00" x2="545.50" y2="207.00" stroke="#777" stroke-width="1.3" />
<line x1="545.50" y1="207.00" x2="545.50" y2="323.00" stroke="#888" stroke-width="1.1" />
<line x1="319.50" y1="207.40" x2="319.50" y2="323.00" stroke="#444" stroke-width="1" />
<line x1="319.50" y1="323.00" x2="545.50" y2="323.00" stroke="#444" stroke-width="1" />
<line x1="316.00" y1="320.60" x2="319.50" y2="320.60" stroke="#444" stroke-width="1" />
<line x1="317.50" y1="315.68" x2="319.50" y2="315.68" stroke="#444" stroke-width="1" />
<line x1="317.50" y1="310.76" x2="319.50" y2="310.76" stroke="#444" stroke-width="1" />
<line x1="317.50" y1="305.84" x2="319.50" y2="305.84" stroke="#444" stroke-width="1" />
<line x1="317.50" y1="300.92" x2="319.50" y2="300.92" stroke="#444" stroke-width="1" />
<line x1="316.00" y1="296.00" x2="319.50" y2="296.00" stroke="#444" stroke-width="1" />
<line x1="317.50" y1="291.08" x2="319.50" y2="291.08" stroke="#444" stroke-width="1" />
<line x1="317.50" y1="286.16" x2="319.50" y2="286.16" stroke="#444" stroke-width="1" />
<line x1="317.50" y1="281.24" x2="319.50" y2="281.24" stroke="#444" stroke-width="1" />
<line x1="317.50" y1="276.32" x2="319.50" y2="276.32" stroke="#444" stroke-width="1" />
<line x1="316.00" y1="271.40" x2="319.50" y2="271.40" stroke="#444" stroke-width="1" />
<line x1="317.50" y1="266.48" x2="319.50" y2="266.48" stroke="#444" stroke-width="1" />
<line x1="317.50" y1="261.56" x2="319.50" y2="261.56" stroke="#444" stroke-width="1" />
<line x1="317.50" y1="256.64" x2="319.50" y2="256.64" stroke="#444" stroke-width="1" />
<line x1="317.50" y1="251.72" x2="319.50" y2="251.72" stroke="#444" stroke-width="1" />
<line x1="316.00" y1="246.80" x2="319.50" y2="246.80" stroke="#444" stroke-width="1" />
<line x1="317.50" y1="241.88" x2="319.50" y2="241.88" stroke="#444" stroke-width="1" />
<line x1="317.50" y1="236.96" x2="319.50" y2="236.96" stroke="#444" stroke-width="1" />
<line x1="317.50" y1="232.04" x2="319.50" y2="232.04" stroke="#444" stroke-width="1" />
<line x1="317.50" y1="227.12" x2="319.50" y2="227.12" stroke="#444" stroke-width="1" />
<line x1="316.00" y1="222.20" x2="319.50" y2="222.20" stroke="#444" stroke-width="1" />
<line x1="317.50" y1="217.28" x2="319.50" y2="217.28" stroke="#444" stroke-width="1" />
<line x1="317.50" y1="212.36" x2="319.50" y2="212.36" stroke="#444" stroke-width="1" />
<text x="312.5" y="323.6" font-size="8.4" text-anchor="end" fill="#484848" stroke="#484848" stroke-width="0.22" >0</text>
<text x="312.5" y="299.0" font-size="8.4" text-anchor="end" fill="#484848" stroke="#484848" stroke-width="0.22" >1</text>
<text x="312.5" y="274.4" font-size="8.4" text-anchor="end" fill="#484848" stroke="#484848" stroke-width="0.22" >2</text>
<text x="312.5" y="249.8" font-size="8.4" text-anchor="end" fill="#484848" stroke="#484848" stroke-width="0.22" >3</text>
<text x="312.5" y="225.2" font-size="8.4" text-anchor="end" fill="#484848" stroke="#484848" stroke-width="0.22" >4</text>
<line x1="322.60" y1="323.00" x2="322.60" y2="327.50" stroke="#444" stroke-width="1" />
<text x="322.6" y="337.0" font-size="8.4" text-anchor="middle" fill="#484848" stroke="#484848" stroke-width="0.22" >0</text>
<line x1="362.60" y1="323.00" x2="362.60" y2="327.50" stroke="#444" stroke-width="1" />
<text x="362.6" y="337.0" font-size="8.4" text-anchor="middle" fill="#484848" stroke="#484848" stroke-width="0.22" >2</text>
<line x1="402.60" y1="323.00" x2="402.60" y2="327.50" stroke="#444" stroke-width="1" />
<text x="402.6" y="337.0" font-size="8.4" text-anchor="middle" fill="#484848" stroke="#484848" stroke-width="0.22" >4</text>
<line x1="442.60" y1="323.00" x2="442.60" y2="327.50" stroke="#444" stroke-width="1" />
<text x="442.6" y="337.0" font-size="8.4" text-anchor="middle" fill="#484848" stroke="#484848" stroke-width="0.22" >6</text>
<line x1="482.60" y1="323.00" x2="482.60" y2="327.50" stroke="#444" stroke-width="1" />
<text x="482.6" y="337.0" font-size="8.4" text-anchor="middle" fill="#484848" stroke="#484848" stroke-width="0.22" >8</text>
<line x1="522.60" y1="323.00" x2="522.60" y2="327.50" stroke="#444" stroke-width="1" />
<text x="522.6" y="337.0" font-size="8.4" text-anchor="middle" fill="#484848" stroke="#484848" stroke-width="0.22" >10</text>
<line x1="342.60" y1="323.00" x2="342.60" y2="325.50" stroke="#444" stroke-width="1" />
<line x1="382.60" y1="323.00" x2="382.60" y2="325.50" stroke="#444" stroke-width="1" />
<line x1="422.60" y1="323.00" x2="422.60" y2="325.50" stroke="#444" stroke-width="1" />
<line x1="462.60" y1="323.00" x2="462.60" y2="325.50" stroke="#444" stroke-width="1" />
<line x1="502.60" y1="323.00" x2="502.60" y2="325.50" stroke="#444" stroke-width="1" />
<text x="392" y="350.9" font-size="8.8" fill="#484848" stroke="#484848" stroke-width="0.22" textLength="81.5" lengthAdjust="spacingAndGlyphs">Laser power (×10<tspan dy="-3" font-size="5.5">3</tspan><tspan dy="3"> μW)</tspan></text>
<text x="0.0" y="0.0" font-size="7.7" text-anchor="middle" fill="#484848" stroke="#484848" stroke-width="0.22" textLength="80" lengthAdjust="spacingAndGlyphs" transform="translate(293.3,272.6) rotate(-90)">Fluorescence intensity</text>
<text font-size="7.7" fill="#484848" stroke="#484848" stroke-width="0.22" text-anchor="middle" textLength="67.4" lengthAdjust="spacingAndGlyphs" transform="translate(301.1,270.6) rotate(-90)">(×10<tspan dy="-3" font-size="5.5">6</tspan><tspan dy="3"> counts s</tspan><tspan dy="-3" font-size="5.5">−1</tspan><tspan dy="3">)</tspan></text>
<text x="449.5" y="263.6" font-size="8" fill="#484848" stroke="#484848" stroke-width="0.12" textLength="47" lengthAdjust="spacingAndGlyphs"><tspan font-style="italic">P</tspan><tspan dy="2" font-size="6">sat</tspan><tspan dy="-2"> = 611 μW</tspan></text>
<text x="449.5" y="276.6" font-size="8" fill="#484848" stroke="#484848" stroke-width="0.12" textLength="88.5" lengthAdjust="spacingAndGlyphs"><tspan font-style="italic">I</tspan><tspan dy="2" font-size="6">∞</tspan><tspan dy="-2"> = 4.26 × 10</tspan><tspan dy="-3" font-size="5.5">6</tspan><tspan dy="3"> counts s</tspan><tspan dy="-3" font-size="5.5">−1</tspan></text>
<path d="M463.30,288.80 L465.70,292.90 L460.90,292.90 Z" fill="none" stroke="#c0604a" stroke-width="0.9"/>
<rect x="461.60" y="299.20" width="3.4" height="3.4" fill="none" stroke="#333" stroke-width="0.9"/>
<text x="469.2" y="294.2" font-size="7.6" text-anchor="start" fill="#505050" stroke="#505050" stroke-width="0.1" textLength="63.8" lengthAdjust="spacingAndGlyphs" >hBN single emitter</text>
<text x="469.2" y="303.6" font-size="7.6" text-anchor="start" fill="#505050" stroke="#505050" stroke-width="0.1" textLength="40.6" lengthAdjust="spacingAndGlyphs" >Background</text>
</svg></body></html>
